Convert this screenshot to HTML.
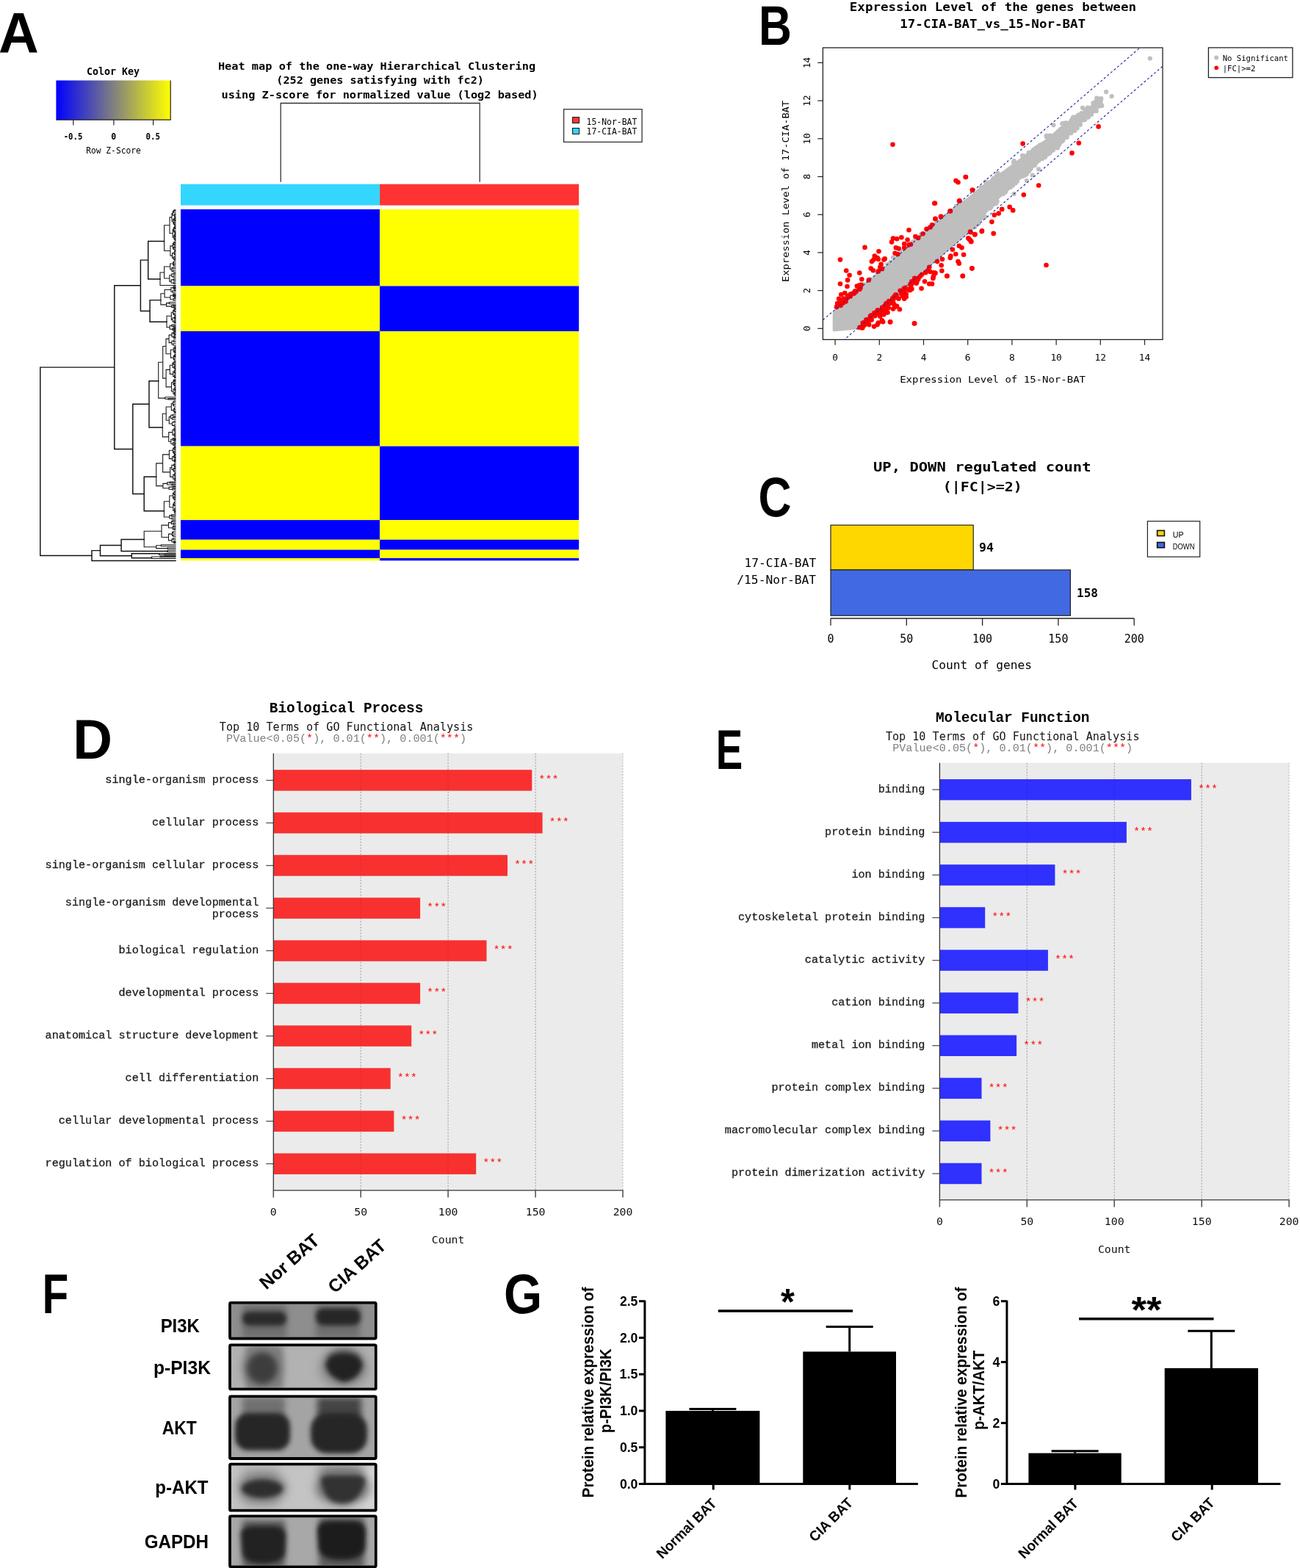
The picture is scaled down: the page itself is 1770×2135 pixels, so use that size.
<!DOCTYPE html>
<html><head><meta charset="utf-8"><title>Figure</title>
<style>html,body{margin:0;padding:0;background:#fff}body{width:1770px;height:2135px;overflow:hidden}svg{display:block}</style>
</head><body>
<svg width="1770" height="2135" viewBox="0 0 1770 2135">
<rect x="0" y="0" width="1770" height="2135" fill="#fff"/>
<text x="0" y="0" font-family="'Liberation Sans',Arial,sans-serif" font-weight="bold" font-size="76.89" transform="translate(-1.90 71.50) scale(0.9866 1)">A</text>
<defs><linearGradient id="ck" x1="0" x2="1" y1="0" y2="0"><stop offset="0" stop-color="#0000ff"/><stop offset="0.5" stop-color="#808080"/><stop offset="1" stop-color="#ffff00"/></linearGradient></defs>
<rect x="76.4" y="109.5" width="155.8" height="53.7" fill="url(#ck)" />
<polyline points="232.2,109.5 232.2,163.2 76.4,163.2" fill="none" stroke="#222" stroke-width="1.2"/>
<line x1="99.8" y1="163.2" x2="99.8" y2="170.4" stroke="#222" stroke-width="1.2" />
<line x1="154.9" y1="163.2" x2="154.9" y2="170.4" stroke="#222" stroke-width="1.2" />
<line x1="208.6" y1="163.2" x2="208.6" y2="170.4" stroke="#222" stroke-width="1.2" />
<text x="154.0" y="101.8" font-family="'DejaVu Sans Mono','Liberation Mono',monospace" font-size="13.2" font-weight="bold" text-anchor="middle" textLength="72.1" lengthAdjust="spacingAndGlyphs" >Color Key</text>
<text x="99.5" y="189.7" font-family="'DejaVu Sans Mono','Liberation Mono',monospace" font-size="11.5" font-weight="bold" text-anchor="middle" textLength="25.7" lengthAdjust="spacingAndGlyphs" >-0.5</text>
<text x="154.6" y="189.7" font-family="'DejaVu Sans Mono','Liberation Mono',monospace" font-size="11.5" font-weight="bold" text-anchor="middle" >0</text>
<text x="208.2" y="189.7" font-family="'DejaVu Sans Mono','Liberation Mono',monospace" font-size="11.5" font-weight="bold" text-anchor="middle" textLength="19.5" lengthAdjust="spacingAndGlyphs" >0.5</text>
<text x="154.5" y="209.3" font-family="'DejaVu Sans Mono','Liberation Mono',monospace" font-size="11.5" text-anchor="middle" textLength="74.5" lengthAdjust="spacingAndGlyphs" >Row Z-Score</text>
<text x="296.9" y="94.5" font-family="'DejaVu Sans Mono','Liberation Mono',monospace" font-size="14.2" font-weight="bold" textLength="432.2" lengthAdjust="spacingAndGlyphs" >Heat map of the one-way Hierarchical Clustering</text>
<text x="376.3" y="114.4" font-family="'DejaVu Sans Mono','Liberation Mono',monospace" font-size="14.2" font-weight="bold" textLength="282.6" lengthAdjust="spacingAndGlyphs" >(252 genes satisfying with fc2)</text>
<text x="301.5" y="134.1" font-family="'DejaVu Sans Mono','Liberation Mono',monospace" font-size="14.2" font-weight="bold" textLength="431.2" lengthAdjust="spacingAndGlyphs" >using Z-score for normalized value (log2 based)</text>
<polyline points="382.2,247.7 382.2,140.5 653.2,140.5 653.2,247.7" fill="none" stroke="#333" stroke-width="1.3"/>
<rect x="767.6" y="148.8" width="106.5" height="44.6" fill="#fff" stroke="#333" stroke-width="1.3" />
<rect x="779.6" y="159.6" width="9.0" height="8.0" fill="#ff3333" stroke="#111" stroke-width="1" />
<rect x="779.6" y="174.5" width="9.0" height="8.0" fill="#33d6ff" stroke="#111" stroke-width="1" />
<text x="798.5" y="169.6" font-family="'DejaVu Sans Mono','Liberation Mono',monospace" font-size="11.8" textLength="68.8" lengthAdjust="spacingAndGlyphs" >15-Nor-BAT</text>
<text x="798.5" y="183.1" font-family="'DejaVu Sans Mono','Liberation Mono',monospace" font-size="11.8" textLength="68.8" lengthAdjust="spacingAndGlyphs" >17-CIA-BAT</text>
<rect x="246.0" y="250.7" width="271.1" height="28.9" fill="#33d6ff" />
<rect x="517.1" y="250.7" width="271.1" height="28.9" fill="#ff3333" />
<rect x="246.0" y="285.0" width="271.1" height="104.5" fill="#0000ff" />
<rect x="517.1" y="285.0" width="271.1" height="104.5" fill="#ffff00" />
<rect x="246.0" y="389.5" width="271.1" height="61.5" fill="#ffff00" />
<rect x="517.1" y="389.5" width="271.1" height="61.5" fill="#0000ff" />
<rect x="246.0" y="451.0" width="271.1" height="156.6" fill="#0000ff" />
<rect x="517.1" y="451.0" width="271.1" height="156.6" fill="#ffff00" />
<rect x="246.0" y="607.6" width="271.1" height="100.5" fill="#ffff00" />
<rect x="517.1" y="607.6" width="271.1" height="100.5" fill="#0000ff" />
<rect x="246.0" y="708.1" width="271.1" height="26.7" fill="#0000ff" />
<rect x="517.1" y="708.1" width="271.1" height="26.7" fill="#ffff00" />
<rect x="246.0" y="734.8" width="271.1" height="13.8" fill="#ffff00" />
<rect x="517.1" y="734.8" width="271.1" height="13.8" fill="#0000ff" />
<rect x="246.0" y="748.6" width="271.1" height="11.4" fill="#0000ff" />
<rect x="517.1" y="748.6" width="271.1" height="11.4" fill="#ffff00" />
<rect x="246.0" y="760.0" width="271.1" height="3.3" fill="#ffff00" />
<rect x="517.1" y="760.0" width="271.1" height="3.3" fill="#0000ff" />
<path d="M237.1 285.9L237.1 287.2 M237.1 285.9L239.0 285.9 M237.1 287.2L239.0 287.2 M236.4 286.5L236.4 289.3 M236.4 286.5L237.1 286.5 M236.4 289.3L239.0 289.3 M238.1 291.0L238.1 292.5 M238.1 291.0L239.0 291.0 M238.1 292.5L239.0 292.5 M237.9 294.0L237.9 295.5 M237.9 294.0L239.0 294.0 M237.9 295.5L239.0 295.5 M237.5 291.7L237.5 294.7 M237.5 291.7L238.1 291.7 M237.5 294.7L237.9 294.7 M235.3 287.9L235.3 293.2 M235.3 287.9L236.4 287.9 M235.3 293.2L237.5 293.2 M237.6 296.7L237.6 297.9 M237.6 296.7L239.0 296.7 M237.6 297.9L239.0 297.9 M237.9 299.2L237.9 300.4 M237.9 299.2L239.0 299.2 M237.9 300.4L239.0 300.4 M236.9 297.3L236.9 299.8 M236.9 297.3L237.6 297.3 M236.9 299.8L237.9 299.8 M237.8 301.8L237.8 303.2 M237.8 301.8L239.0 301.8 M237.8 303.2L239.0 303.2 M237.7 304.8L237.7 306.4 M237.7 304.8L239.0 304.8 M237.7 306.4L239.0 306.4 M236.6 302.5L236.6 305.6 M236.6 302.5L237.8 302.5 M236.6 305.6L237.7 305.6 M235.8 298.6L235.8 304.0 M235.8 298.6L236.9 298.6 M235.8 304.0L236.6 304.0 M234.0 290.6L234.0 301.3 M234.0 290.6L235.3 290.6 M234.0 301.3L235.8 301.3 M238.3 307.7L238.3 309.0 M238.3 307.7L239.0 307.7 M238.3 309.0L239.0 309.0 M238.0 310.4L238.0 311.7 M238.0 310.4L239.0 310.4 M238.0 311.7L239.0 311.7 M237.6 308.4L237.6 311.0 M237.6 308.4L238.3 308.4 M237.6 311.0L238.0 311.0 M238.1 315.6L238.1 317.1 M238.1 315.6L239.0 315.6 M238.1 317.1L239.0 317.1 M237.2 313.9L237.2 316.3 M237.2 313.9L239.0 313.9 M237.2 316.3L238.1 316.3 M236.5 309.7L236.5 315.1 M236.5 309.7L237.6 309.7 M236.5 315.1L237.2 315.1 M238.3 318.4L238.3 319.8 M238.3 318.4L239.0 318.4 M238.3 319.8L239.0 319.8 M238.2 321.1L238.2 322.4 M238.2 321.1L239.0 321.1 M238.2 322.4L239.0 322.4 M237.7 319.1L237.7 321.8 M237.7 319.1L238.3 319.1 M237.7 321.8L238.2 321.8 M238.4 323.8L238.4 325.2 M238.4 323.8L239.0 323.8 M238.4 325.2L239.0 325.2 M238.5 326.5L238.5 327.8 M238.5 326.5L239.0 326.5 M238.5 327.8L239.0 327.8 M238.1 324.5L238.1 327.2 M238.1 324.5L238.4 324.5 M238.1 327.2L238.5 327.2 M236.9 320.4L236.9 325.8 M236.9 320.4L237.7 320.4 M236.9 325.8L238.1 325.8 M235.2 312.4L235.2 323.1 M235.2 312.4L236.5 312.4 M235.2 323.1L236.9 323.1 M231.0 295.9L231.0 317.8 M231.0 295.9L234.0 295.9 M231.0 317.8L235.2 317.8 M237.8 329.2L237.8 330.6 M237.8 329.2L239.0 329.2 M237.8 330.6L239.0 330.6 M237.4 332.4L237.4 334.1 M237.4 332.4L239.0 332.4 M237.4 334.1L239.0 334.1 M236.5 329.9L236.5 333.2 M236.5 329.9L237.8 329.9 M236.5 333.2L237.4 333.2 M237.8 335.8L237.8 337.4 M237.8 335.8L239.0 335.8 M237.8 337.4L239.0 337.4 M237.8 339.0L237.8 340.6 M237.8 339.0L239.0 339.0 M237.8 340.6L239.0 340.6 M236.3 336.6L236.3 339.8 M236.3 336.6L237.8 336.6 M236.3 339.8L237.8 339.8 M235.3 331.6L235.3 338.2 M235.3 331.6L236.5 331.6 M235.3 338.2L236.3 338.2 M237.8 342.1L237.8 343.7 M237.8 342.1L239.0 342.1 M237.8 343.7L239.0 343.7 M238.0 345.5L238.0 347.3 M238.0 345.5L239.0 345.5 M238.0 347.3L239.0 347.3 M237.2 342.9L237.2 346.4 M237.2 342.9L237.8 342.9 M237.2 346.4L238.0 346.4 M237.9 349.0L237.9 350.7 M237.9 349.0L239.0 349.0 M237.9 350.7L239.0 350.7 M237.5 352.4L237.5 354.1 M237.5 352.4L239.0 352.4 M237.5 354.1L239.0 354.1 M236.3 349.9L236.3 353.2 M236.3 349.9L237.9 349.9 M236.3 353.2L237.5 353.2 M234.6 344.6L234.6 351.5 M234.6 344.6L237.2 344.6 M234.6 351.5L236.3 351.5 M231.9 334.9L231.9 348.1 M231.9 334.9L235.3 334.9 M231.9 348.1L234.6 348.1 M223.6 306.8L223.6 341.5 M223.6 306.8L231.0 306.8 M223.6 341.5L231.9 341.5 M236.5 356.0L236.5 358.0 M236.5 356.0L239.0 356.0 M236.5 358.0L239.0 358.0 M236.5 359.9L236.5 362.0 M236.5 359.9L239.0 359.9 M236.5 362.0L239.0 362.0 M235.6 357.0L235.6 361.0 M235.6 357.0L236.5 357.0 M235.6 361.0L236.5 361.0 M235.2 364.0L235.2 365.8 M235.2 364.0L239.0 364.0 M235.2 365.8L239.0 365.8 M235.8 368.0L235.8 370.2 M235.8 368.0L239.0 368.0 M235.8 370.2L239.0 370.2 M233.9 364.9L233.9 369.1 M233.9 364.9L235.2 364.9 M233.9 369.1L235.8 369.1 M231.7 359.0L231.7 367.0 M231.7 359.0L235.6 359.0 M231.7 367.0L233.9 367.0 M236.7 372.1L236.7 373.8 M236.7 372.1L239.0 372.1 M236.7 373.8L239.0 373.8 M236.0 375.7L236.0 377.8 M236.0 375.7L239.0 375.7 M236.0 377.8L239.0 377.8 M233.8 372.9L233.8 376.7 M233.8 372.9L236.7 372.9 M233.8 376.7L236.0 376.7 M236.3 379.9L236.3 381.9 M236.3 379.9L239.0 379.9 M236.3 381.9L239.0 381.9 M236.6 384.1L236.6 386.4 M236.6 384.1L239.0 384.1 M236.6 386.4L239.0 386.4 M233.1 380.9L233.1 385.3 M233.1 380.9L236.3 380.9 M233.1 385.3L236.6 385.3 M230.8 374.8L230.8 383.1 M230.8 374.8L233.8 374.8 M230.8 383.1L233.1 383.1 M223.6 363.0L223.6 379.0 M223.6 363.0L231.7 363.0 M223.6 379.0L230.8 379.0 M218.0 371.0L218.0 388.5 M218.0 371.0L223.6 371.0 M218.0 388.5L239.0 388.5 M236.9 389.8L236.9 391.1 M236.9 389.8L239.0 389.8 M236.9 391.1L239.0 391.1 M237.3 392.4L237.3 393.7 M237.3 392.4L239.0 392.4 M237.3 393.7L239.0 393.7 M235.9 390.4L235.9 393.1 M235.9 390.4L236.9 390.4 M235.9 393.1L237.3 393.1 M237.4 395.1L237.4 396.5 M237.4 395.1L239.0 395.1 M237.4 396.5L239.0 396.5 M235.2 395.8L235.2 398.7 M235.2 395.8L237.4 395.8 M235.2 398.7L239.0 398.7 M232.9 391.8L232.9 397.3 M232.9 391.8L235.9 391.8 M232.9 397.3L235.2 397.3 M236.9 400.3L236.9 401.6 M236.9 400.3L239.0 400.3 M236.9 401.6L239.0 401.6 M236.8 402.9L236.8 404.1 M236.8 402.9L239.0 402.9 M236.8 404.1L239.0 404.1 M235.6 400.9L235.6 403.5 M235.6 400.9L236.9 400.9 M235.6 403.5L236.8 403.5 M237.8 405.6L237.8 407.0 M237.8 405.6L239.0 405.6 M237.8 407.0L239.0 407.0 M236.1 406.3L236.1 409.1 M236.1 406.3L237.8 406.3 M236.1 409.1L239.0 409.1 M232.0 402.2L232.0 407.7 M232.0 402.2L235.6 402.2 M232.0 407.7L236.1 407.7 M224.1 394.5L224.1 405.0 M224.1 394.5L232.9 394.5 M224.1 405.0L232.0 405.0 M230.5 411.5L230.5 413.7 M230.5 411.5L239.0 411.5 M230.5 413.7L239.0 413.7 M235.8 415.2L235.8 416.5 M235.8 415.2L239.0 415.2 M235.8 416.5L239.0 416.5 M236.4 417.8L236.4 419.1 M236.4 417.8L239.0 417.8 M236.4 419.1L239.0 419.1 M233.6 415.8L233.6 418.4 M233.6 415.8L235.8 415.8 M233.6 418.4L236.4 418.4 M226.5 412.6L226.5 417.1 M226.5 412.6L230.5 412.6 M226.5 417.1L233.6 417.1 M218.9 399.7L218.9 414.9 M218.9 399.7L224.1 399.7 M218.9 414.9L226.5 414.9 M238.1 420.4L238.1 421.8 M238.1 420.4L239.0 420.4 M238.1 421.8L239.0 421.8 M238.1 423.2L238.1 424.6 M238.1 423.2L239.0 423.2 M238.1 424.6L239.0 424.6 M236.9 421.1L236.9 423.9 M236.9 421.1L238.1 421.1 M236.9 423.9L238.1 423.9 M238.0 428.2L238.0 429.5 M238.0 428.2L239.0 428.2 M238.0 429.5L239.0 429.5 M236.7 426.7L236.7 428.8 M236.7 426.7L239.0 426.7 M236.7 428.8L238.0 428.8 M235.7 422.5L235.7 427.8 M235.7 422.5L236.9 422.5 M235.7 427.8L236.7 427.8 M238.0 430.8L238.0 432.1 M238.0 430.8L239.0 430.8 M238.0 432.1L239.0 432.1 M237.9 433.4L237.9 434.7 M237.9 433.4L239.0 433.4 M237.9 434.7L239.0 434.7 M237.4 431.5L237.4 434.1 M237.4 431.5L238.0 431.5 M237.4 434.1L237.9 434.1 M238.1 436.0L238.1 437.3 M238.1 436.0L239.0 436.0 M238.1 437.3L239.0 437.3 M238.0 438.6L238.0 439.9 M238.0 438.6L239.0 438.6 M238.0 439.9L239.0 439.9 M236.9 436.7L236.9 439.3 M236.9 436.7L238.1 436.7 M236.9 439.3L238.0 439.3 M235.0 432.8L235.0 438.0 M235.0 432.8L237.4 432.8 M235.0 438.0L236.9 438.0 M233.3 425.2L233.3 435.4 M233.3 425.2L235.7 425.2 M233.3 435.4L235.0 435.4 M236.8 443.7L236.8 445.1 M236.8 443.7L239.0 443.7 M236.8 445.1L239.0 445.1 M233.9 442.1L233.9 444.4 M233.9 442.1L239.0 442.1 M233.9 444.4L236.8 444.4 M236.4 446.3L236.4 447.6 M236.4 446.3L239.0 446.3 M236.4 447.6L239.0 447.6 M236.6 448.8L236.6 450.1 M236.6 448.8L239.0 448.8 M236.6 450.1L239.0 450.1 M234.8 447.0L234.8 449.4 M234.8 447.0L236.4 447.0 M234.8 449.4L236.6 449.4 M231.2 443.2L231.2 448.2 M231.2 443.2L233.9 443.2 M231.2 448.2L234.8 448.2 M227.0 430.3L227.0 445.7 M227.0 430.3L233.3 430.3 M227.0 445.7L231.2 445.7 M237.0 451.4L237.0 452.8 M237.0 451.4L239.0 451.4 M237.0 452.8L239.0 452.8 M237.2 454.1L237.2 455.5 M237.2 454.1L239.0 454.1 M237.2 455.5L239.0 455.5 M236.2 452.1L236.2 454.8 M236.2 452.1L237.0 452.1 M236.2 454.8L237.2 454.8 M237.6 456.8L237.6 458.2 M237.6 456.8L239.0 456.8 M237.6 458.2L239.0 458.2 M237.3 459.5L237.3 460.8 M237.3 459.5L239.0 459.5 M237.3 460.8L239.0 460.8 M236.2 457.5L236.2 460.2 M236.2 457.5L237.6 457.5 M236.2 460.2L237.3 460.2 M234.0 453.4L234.0 458.8 M234.0 453.4L236.2 453.4 M234.0 458.8L236.2 458.8 M236.4 463.0L236.4 465.4 M236.4 463.0L239.0 463.0 M236.4 465.4L239.0 465.4 M236.0 467.8L236.0 470.3 M236.0 467.8L239.0 467.8 M236.0 470.3L239.0 470.3 M233.9 464.2L233.9 469.0 M233.9 464.2L236.4 464.2 M233.9 469.0L236.0 469.0 M230.1 456.1L230.1 466.6 M230.1 456.1L234.0 456.1 M230.1 466.6L233.9 466.6 M238.2 471.8L238.2 473.1 M238.2 471.8L239.0 471.8 M238.2 473.1L239.0 473.1 M238.2 474.4L238.2 475.7 M238.2 474.4L239.0 474.4 M238.2 475.7L239.0 475.7 M237.8 472.5L237.8 475.1 M237.8 472.5L238.2 472.5 M237.8 475.1L238.2 475.1 M238.4 477.0L238.4 478.2 M238.4 477.0L239.0 477.0 M238.4 478.2L239.0 478.2 M238.3 479.5L238.3 480.7 M238.3 479.5L239.0 479.5 M238.3 480.7L239.0 480.7 M237.6 477.6L237.6 480.1 M237.6 477.6L238.4 477.6 M237.6 480.1L238.3 480.1 M236.2 473.8L236.2 478.9 M236.2 473.8L237.8 473.8 M236.2 478.9L237.6 478.9 M238.2 482.3L238.2 483.9 M238.2 482.3L239.0 482.3 M238.2 483.9L239.0 483.9 M238.1 485.2L238.1 486.4 M238.1 485.2L239.0 485.2 M238.1 486.4L239.0 486.4 M237.4 483.1L237.4 485.8 M237.4 483.1L238.2 483.1 M237.4 485.8L238.1 485.8 M237.3 488.5L237.3 490.8 M237.3 488.5L239.0 488.5 M237.3 490.8L239.0 490.8 M236.3 484.5L236.3 489.7 M236.3 484.5L237.4 484.5 M236.3 489.7L237.3 489.7 M232.4 476.3L232.4 487.1 M232.4 476.3L236.2 476.3 M232.4 487.1L236.3 487.1 M226.0 461.4L226.0 481.7 M226.0 461.4L230.1 461.4 M226.0 481.7L232.4 481.7 M237.6 492.4L237.6 493.8 M237.6 492.4L239.0 492.4 M237.6 493.8L239.0 493.8 M236.9 495.3L236.9 496.7 M236.9 495.3L239.0 495.3 M236.9 496.7L239.0 496.7 M236.0 493.1L236.0 496.0 M236.0 493.1L237.6 493.1 M236.0 496.0L236.9 496.0 M237.8 498.0L237.8 499.3 M237.8 498.0L239.0 498.0 M237.8 499.3L239.0 499.3 M238.1 500.9L238.1 502.4 M238.1 500.9L239.0 500.9 M238.1 502.4L239.0 502.4 M237.1 498.7L237.1 501.6 M237.1 498.7L237.8 498.7 M237.1 501.6L238.1 501.6 M234.9 494.6L234.9 500.1 M234.9 494.6L236.0 494.6 M234.9 500.1L237.1 500.1 M238.2 503.8L238.2 505.2 M238.2 503.8L239.0 503.8 M238.2 505.2L239.0 505.2 M238.3 506.9L238.3 508.6 M238.3 506.9L239.0 506.9 M238.3 508.6L239.0 508.6 M237.3 504.5L237.3 507.8 M237.3 504.5L238.2 504.5 M237.3 507.8L238.3 507.8 M237.9 510.3L237.9 512.0 M237.9 510.3L239.0 510.3 M237.9 512.0L239.0 512.0 M238.1 513.4L238.1 514.8 M238.1 513.4L239.0 513.4 M238.1 514.8L239.0 514.8 M237.5 511.1L237.5 514.1 M237.5 511.1L237.9 511.1 M237.5 514.1L238.1 514.1 M235.7 506.1L235.7 512.6 M235.7 506.1L237.3 506.1 M235.7 512.6L237.5 512.6 M231.3 497.3L231.3 509.4 M231.3 497.3L234.9 497.3 M231.3 509.4L235.7 509.4 M237.6 518.4L237.6 519.7 M237.6 518.4L239.0 518.4 M237.6 519.7L239.0 519.7 M236.9 516.9L236.9 519.1 M236.9 516.9L239.0 516.9 M236.9 519.1L237.6 519.1 M237.6 521.2L237.6 522.7 M237.6 521.2L239.0 521.2 M237.6 522.7L239.0 522.7 M237.7 524.2L237.7 525.7 M237.7 524.2L239.0 524.2 M237.7 525.7L239.0 525.7 M237.0 522.0L237.0 524.9 M237.0 522.0L237.6 522.0 M237.0 524.9L237.7 524.9 M235.9 518.0L235.9 523.4 M235.9 518.0L236.9 518.0 M235.9 523.4L237.0 523.4 M238.2 527.4L238.2 529.1 M238.2 527.4L239.0 527.4 M238.2 529.1L239.0 529.1 M238.2 530.6L238.2 532.1 M238.2 530.6L239.0 530.6 M238.2 532.1L239.0 532.1 M237.7 528.3L237.7 531.4 M237.7 528.3L238.2 528.3 M237.7 531.4L238.2 531.4 M238.0 533.8L238.0 535.4 M238.0 533.8L239.0 533.8 M238.0 535.4L239.0 535.4 M238.2 537.0L238.2 538.6 M238.2 537.0L239.0 537.0 M238.2 538.6L239.0 538.6 M237.4 534.6L237.4 537.8 M237.4 534.6L238.0 534.6 M237.4 537.8L238.2 537.8 M235.9 529.8L235.9 536.2 M235.9 529.8L237.7 529.8 M235.9 536.2L237.4 536.2 M233.5 520.7L233.5 533.0 M233.5 520.7L235.9 520.7 M233.5 533.0L235.9 533.0 M226.1 503.4L226.1 526.9 M226.1 503.4L231.3 503.4 M226.1 526.9L233.5 526.9 M221.7 471.5L221.7 515.1 M221.7 471.5L226.0 471.5 M221.7 515.1L226.1 515.1 M229.0 542.6L229.0 544.0 M229.0 542.6L239.0 542.6 M229.0 544.0L239.0 544.0 M224.8 540.8L224.8 543.3 M224.8 540.8L239.0 540.8 M224.8 543.3L229.0 543.3 M215.7 493.3L215.7 542.1 M215.7 493.3L221.7 493.3 M215.7 542.1L224.8 542.1 M236.8 546.1L236.8 548.2 M236.8 546.1L239.0 546.1 M236.8 548.2L239.0 548.2 M236.6 550.5L236.6 553.0 M236.6 550.5L239.0 550.5 M236.6 553.0L239.0 553.0 M235.3 547.2L235.3 551.8 M235.3 547.2L236.8 547.2 M235.3 551.8L236.6 551.8 M237.5 555.3L237.5 557.6 M237.5 555.3L239.0 555.3 M237.5 557.6L239.0 557.6 M238.1 561.1L238.1 562.4 M238.1 561.1L239.0 561.1 M238.1 562.4L239.0 562.4 M237.5 559.7L237.5 561.7 M237.5 559.7L239.0 559.7 M237.5 561.7L238.1 561.7 M236.7 556.4L236.7 560.7 M236.7 556.4L237.5 556.4 M236.7 560.7L237.5 560.7 M233.3 549.5L233.3 558.6 M233.3 549.5L235.3 549.5 M233.3 558.6L236.7 558.6 M235.0 564.3L235.0 566.3 M235.0 564.3L239.0 564.3 M235.0 566.3L239.0 566.3 M236.6 567.8L236.6 569.0 M236.6 567.8L239.0 567.8 M236.6 569.0L239.0 569.0 M234.8 568.4L234.8 571.2 M234.8 568.4L236.6 568.4 M234.8 571.2L239.0 571.2 M232.5 565.3L232.5 569.8 M232.5 565.3L235.0 565.3 M232.5 569.8L234.8 569.8 M237.0 573.6L237.0 575.8 M237.0 573.6L239.0 573.6 M237.0 575.8L239.0 575.8 M237.2 578.2L237.2 580.5 M237.2 578.2L239.0 578.2 M237.2 580.5L239.0 580.5 M234.5 574.7L234.5 579.4 M234.5 574.7L237.0 574.7 M234.5 579.4L237.2 579.4 M230.3 567.6L230.3 577.0 M230.3 567.6L232.5 567.6 M230.3 577.0L234.5 577.0 M226.2 554.0L226.2 572.3 M226.2 554.0L233.3 554.0 M226.2 572.3L230.3 572.3 M237.6 582.4L237.6 584.2 M237.6 582.4L239.0 582.4 M237.6 584.2L239.0 584.2 M237.8 585.9L237.8 587.7 M237.8 585.9L239.0 585.9 M237.8 587.7L239.0 587.7 M237.0 583.3L237.0 586.8 M237.0 583.3L237.6 583.3 M237.0 586.8L237.8 586.8 M238.0 589.4L238.0 591.2 M238.0 589.4L239.0 589.4 M238.0 591.2L239.0 591.2 M238.0 592.9L238.0 594.7 M238.0 592.9L239.0 592.9 M238.0 594.7L239.0 594.7 M237.1 590.3L237.1 593.8 M237.1 590.3L238.0 590.3 M237.1 593.8L238.0 593.8 M234.9 585.0L234.9 592.1 M234.9 585.0L237.0 585.0 M234.9 592.1L237.1 592.1 M236.8 596.2L236.8 597.6 M236.8 596.2L239.0 596.2 M236.8 597.6L239.0 597.6 M236.9 598.9L236.9 600.1 M236.9 598.9L239.0 598.9 M236.9 600.1L239.0 600.1 M235.1 596.9L235.1 599.5 M235.1 596.9L236.8 596.9 M235.1 599.5L236.9 599.5 M237.2 601.9L237.2 603.6 M237.2 601.9L239.0 601.9 M237.2 603.6L239.0 603.6 M237.0 605.1L237.0 606.7 M237.0 605.1L239.0 605.1 M237.0 606.7L239.0 606.7 M235.4 602.8L235.4 605.9 M235.4 602.8L237.2 602.8 M235.4 605.9L237.0 605.9 M232.8 598.2L232.8 604.3 M232.8 598.2L235.1 598.2 M232.8 604.3L235.4 604.3 M229.7 588.6L229.7 601.3 M229.7 588.6L234.9 588.6 M229.7 601.3L232.8 601.3 M221.3 563.2L221.3 594.9 M221.3 563.2L226.2 563.2 M221.3 594.9L229.7 594.9 M238.0 608.1L238.0 609.6 M238.0 608.1L239.0 608.1 M238.0 609.6L239.0 609.6 M237.9 611.0L237.9 612.5 M237.9 611.0L239.0 611.0 M237.9 612.5L239.0 612.5 M237.0 608.8L237.0 611.7 M237.0 608.8L238.0 608.8 M237.0 611.7L237.9 611.7 M237.5 614.0L237.5 615.5 M237.5 614.0L239.0 614.0 M237.5 615.5L239.0 615.5 M237.3 617.1L237.3 618.6 M237.3 617.1L239.0 617.1 M237.3 618.6L239.0 618.6 M236.7 614.8L236.7 617.8 M236.7 614.8L237.5 614.8 M236.7 617.8L237.3 617.8 M235.5 610.3L235.5 616.3 M235.5 610.3L237.0 610.3 M235.5 616.3L236.7 616.3 M237.7 619.9L237.7 621.3 M237.7 619.9L239.0 619.9 M237.7 621.3L239.0 621.3 M238.0 622.6L238.0 623.9 M238.0 622.6L239.0 622.6 M238.0 623.9L239.0 623.9 M236.7 620.6L236.7 623.3 M236.7 620.6L237.7 620.6 M236.7 623.3L238.0 623.3 M238.1 625.2L238.1 626.6 M238.1 625.2L239.0 625.2 M238.1 626.6L239.0 626.6 M237.9 627.9L237.9 629.2 M237.9 627.9L239.0 627.9 M237.9 629.2L239.0 629.2 M237.1 625.9L237.1 628.6 M237.1 625.9L238.1 625.9 M237.1 628.6L237.9 628.6 M234.6 621.9L234.6 627.2 M234.6 621.9L236.7 621.9 M234.6 627.2L237.1 627.2 M230.4 613.3L230.4 624.6 M230.4 613.3L235.5 613.3 M230.4 624.6L234.6 624.6 M237.8 631.0L237.8 632.7 M237.8 631.0L239.0 631.0 M237.8 632.7L239.0 632.7 M237.9 634.2L237.9 635.7 M237.9 634.2L239.0 634.2 M237.9 635.7L239.0 635.7 M236.9 631.8L236.9 634.9 M236.9 631.8L237.8 631.8 M236.9 634.9L237.9 634.9 M237.3 637.1L237.3 638.5 M237.3 637.1L239.0 637.1 M237.3 638.5L239.0 638.5 M236.9 640.3L236.9 642.1 M236.9 640.3L239.0 640.3 M236.9 642.1L239.0 642.1 M236.0 637.8L236.0 641.2 M236.0 637.8L237.3 637.8 M236.0 641.2L236.9 641.2 M233.9 633.4L233.9 639.5 M233.9 633.4L236.9 633.4 M233.9 639.5L236.0 639.5 M238.2 643.9L238.2 645.8 M238.2 643.9L239.0 643.9 M238.2 645.8L239.0 645.8 M238.0 647.2L238.0 648.7 M238.0 647.2L239.0 647.2 M238.0 648.7L239.0 648.7 M237.5 644.8L237.5 648.0 M237.5 644.8L238.2 644.8 M237.5 648.0L238.0 648.0 M238.2 650.2L238.2 651.6 M238.2 650.2L239.0 650.2 M238.2 651.6L239.0 651.6 M238.0 653.1L238.0 654.5 M238.0 653.1L239.0 653.1 M238.0 654.5L239.0 654.5 M237.7 650.9L237.7 653.8 M237.7 650.9L238.2 650.9 M237.7 653.8L238.0 653.8 M235.7 646.4L235.7 652.3 M235.7 646.4L237.5 646.4 M235.7 652.3L237.7 652.3 M231.7 636.5L231.7 649.4 M231.7 636.5L233.9 636.5 M231.7 649.4L235.7 649.4 M221.6 618.9L221.6 642.9 M221.6 618.9L230.4 618.9 M221.6 642.9L231.7 642.9 M231.3 656.1L231.3 657.7 M231.3 656.1L239.0 656.1 M231.3 657.7L239.0 657.7 M234.0 659.2L234.0 660.8 M234.0 659.2L239.0 659.2 M234.0 660.8L239.0 660.8 M227.7 656.9L227.7 660.0 M227.7 656.9L231.3 656.9 M227.7 660.0L234.0 660.0 M235.2 662.4L235.2 663.9 M235.2 662.4L239.0 662.4 M235.2 663.9L239.0 663.9 M234.5 665.5L234.5 667.0 M234.5 665.5L239.0 665.5 M234.5 667.0L239.0 667.0 M230.0 663.1L230.0 666.3 M230.0 663.1L235.2 663.1 M230.0 666.3L234.5 666.3 M221.9 658.4L221.9 664.7 M221.9 658.4L227.7 658.4 M221.9 664.7L230.0 664.7 M212.7 630.9L212.7 661.6 M212.7 630.9L221.6 630.9 M212.7 661.6L221.9 661.6 M238.1 668.9L238.1 670.8 M238.1 668.9L239.0 668.9 M238.1 670.8L239.0 670.8 M237.6 672.5L237.6 674.1 M237.6 672.5L239.0 672.5 M237.6 674.1L239.0 674.1 M236.8 669.9L236.8 673.3 M236.8 669.9L238.1 669.9 M236.8 673.3L237.6 673.3 M237.6 675.8L237.6 677.4 M237.6 675.8L239.0 675.8 M237.6 677.4L239.0 677.4 M237.8 679.4L237.8 681.3 M237.8 679.4L239.0 679.4 M237.8 681.3L239.0 681.3 M236.9 676.6L236.9 680.3 M236.9 676.6L237.6 676.6 M236.9 680.3L237.8 680.3 M235.5 671.6L235.5 678.5 M235.5 671.6L236.8 671.6 M235.5 678.5L236.9 678.5 M237.4 683.2L237.4 685.2 M237.4 683.2L239.0 683.2 M237.4 685.2L239.0 685.2 M237.8 687.2L237.8 689.3 M237.8 687.2L239.0 687.2 M237.8 689.3L239.0 689.3 M236.8 684.2L236.8 688.3 M236.8 684.2L237.4 684.2 M236.8 688.3L237.8 688.3 M238.1 691.5L238.1 693.9 M238.1 691.5L239.0 691.5 M238.1 693.9L239.0 693.9 M238.2 695.5L238.2 696.9 M238.2 695.5L239.0 695.5 M238.2 696.9L239.0 696.9 M237.8 696.2L237.8 698.9 M237.8 696.2L238.2 696.2 M237.8 698.9L239.0 698.9 M237.4 692.7L237.4 697.5 M237.4 692.7L238.1 692.7 M237.4 697.5L237.8 697.5 M235.7 686.2L235.7 695.1 M235.7 686.2L236.8 686.2 M235.7 695.1L237.4 695.1 M230.8 675.0L230.8 690.7 M230.8 675.0L235.5 675.0 M230.8 690.7L235.7 690.7 M233.4 700.9L233.4 702.9 M233.4 700.9L239.0 700.9 M233.4 702.9L239.0 702.9 M234.0 705.0L234.0 707.0 M234.0 705.0L239.0 705.0 M234.0 707.0L239.0 707.0 M230.7 701.9L230.7 706.0 M230.7 701.9L233.4 701.9 M230.7 706.0L234.0 706.0 M223.4 682.8L223.4 704.0 M223.4 682.8L230.8 682.8 M223.4 704.0L230.7 704.0 M234.8 708.9L234.8 710.7 M234.8 708.9L239.0 708.9 M234.8 710.7L239.0 710.7 M236.4 712.5L236.4 714.3 M236.4 712.5L239.0 712.5 M236.4 714.3L239.0 714.3 M233.4 709.8L233.4 713.4 M233.4 709.8L234.8 709.8 M233.4 713.4L236.4 713.4 M236.3 716.0L236.3 717.6 M236.3 716.0L239.0 716.0 M236.3 717.6L239.0 717.6 M237.0 719.6L237.0 721.5 M237.0 719.6L239.0 719.6 M237.0 721.5L239.0 721.5 M235.1 716.8L235.1 720.5 M235.1 716.8L236.3 716.8 M235.1 720.5L237.0 720.5 M229.5 711.6L229.5 718.7 M229.5 711.6L233.4 711.6 M229.5 718.7L235.1 718.7 M235.6 723.7L235.6 726.0 M235.6 723.7L239.0 723.7 M235.6 726.0L239.0 726.0 M235.9 728.3L235.9 730.5 M235.9 728.3L239.0 728.3 M235.9 730.5L239.0 730.5 M234.4 724.8L234.4 729.4 M234.4 724.8L235.6 724.8 M234.4 729.4L235.9 729.4 M235.7 732.7L235.7 734.8 M235.7 732.7L239.0 732.7 M235.7 734.8L239.0 734.8 M237.6 738.4L237.6 739.8 M237.6 738.4L239.0 738.4 M237.6 739.8L239.0 739.8 M236.5 736.9L236.5 739.1 M236.5 736.9L239.0 736.9 M236.5 739.1L237.6 739.1 M234.0 733.7L234.0 738.0 M234.0 733.7L235.7 733.7 M234.0 738.0L236.5 738.0 M229.5 727.1L229.5 735.9 M229.5 727.1L234.4 727.1 M229.5 735.9L234.0 735.9 M220.0 715.1L220.0 731.5 M220.0 715.1L229.5 715.1 M220.0 731.5L229.5 731.5 M219.4 741.7L219.4 743.7 M219.4 741.7L239.0 741.7 M219.4 743.7L239.0 743.7 M228.1 745.7L228.1 747.5 M228.1 745.7L239.0 745.7 M228.1 747.5L239.0 747.5 M212.7 742.7L212.7 746.6 M212.7 742.7L219.4 742.7 M212.7 746.6L228.1 746.6 M196.2 723.3L196.2 744.7 M196.2 723.3L220.0 723.3 M196.2 744.7L212.7 744.7 M228.0 749.5L228.0 751.5 M228.0 749.5L239.0 749.5 M228.0 751.5L239.0 751.5 M224.2 754.8L224.2 756.0 M224.2 754.8L239.0 754.8 M224.2 756.0L239.0 756.0 M216.7 753.5L216.7 755.4 M216.7 753.5L239.0 753.5 M216.7 755.4L224.2 755.4 M218.1 757.4L218.1 758.7 M218.1 757.4L239.0 757.4 M218.1 758.7L239.0 758.7 M206.5 758.0L206.5 760.5 M206.5 758.0L218.1 758.0 M206.5 760.5L239.0 760.5" stroke="#1a1a1a" stroke-width="1.1" fill="none" stroke-linecap="square"/>
<path d="M201.7 328.4L201.7 379.9 M201.7 328.4L223.6 328.4 M201.7 379.9L218.0 379.9 M204.1 408.6L204.1 438.2 M204.1 408.6L218.9 408.6 M204.1 438.2L227.0 438.2 M191.4 354.1L191.4 423.4 M191.4 354.1L201.7 354.1 M191.4 423.4L204.1 423.4 M203.0 518.8L203.0 581.9 M203.0 518.8L215.7 518.8 M203.0 581.9L221.3 581.9 M196.2 649.2L196.2 695.7 M196.2 649.2L212.7 649.2 M196.2 695.7L223.4 695.7 M180.8 550.3L180.8 672.5 M180.8 550.3L203.0 550.3 M180.8 672.5L196.2 672.5 M155.8 388.8L155.8 611.4 M155.8 388.8L191.4 388.8 M155.8 611.4L180.8 611.4 M165.1 734.5L165.1 750.5 M165.1 734.5L196.2 734.5 M165.1 750.5L228.0 750.5 M179.3 753.8L179.3 759.8 M179.3 753.8L216.7 753.8 M179.3 759.8L206.5 759.8 M136.5 742.5L136.5 756.8 M136.5 742.5L165.1 742.5 M136.5 756.8L179.3 756.8 M125.0 749.6L125.0 763.4 M125.0 749.6L136.5 749.6 M125.0 763.4L239.0 763.4 M54.8 500.1L54.8 756.5 M54.8 500.1L155.8 500.1 M54.8 756.5L125.0 756.5" stroke="#111" stroke-width="1.45" fill="none" stroke-linecap="square"/>
<text x="0" y="0" font-family="'Liberation Sans',Arial,sans-serif" font-weight="bold" font-size="76.16" transform="translate(1033.04 60.70) scale(0.8158 1)">B</text>
<text x="1156.8" y="14.6" font-family="'DejaVu Sans Mono','Liberation Mono',monospace" font-size="15.0" font-weight="bold" textLength="390.2" lengthAdjust="spacingAndGlyphs" >Expression Level of the genes between</text>
<text x="1225.3" y="37.9" font-family="'DejaVu Sans Mono','Liberation Mono',monospace" font-size="15.0" font-weight="bold" textLength="252.8" lengthAdjust="spacingAndGlyphs" >17-CIA-BAT_vs_15-Nor-BAT</text>
<defs><clipPath id="cb"><rect x="1120.4" y="65" width="462.5999999999999" height="397.4"/></clipPath></defs>
<g clip-path="url(#cb)">
<polygon points="1135.2,449.7 1135.2,425.1 1150.0,411.9 1162.0,401.6 1174.0,391.3 1186.0,381.0 1198.0,370.6 1210.0,360.3 1222.0,350.0 1234.0,339.7 1246.0,329.4 1258.0,319.1 1270.0,308.8 1275.4,304.3 1300.0,282.7 1317.9,270.7 1344.8,248.3 1367.2,233.4 1395.6,212.5 1409.0,200.5 1424.0,191.6 1434.4,182.6 1452.3,167.7 1464.3,160.2 1479.2,151.2 1494.1,136.3 1500.0,136.3 1500.0,140.8 1479.2,158.7 1458.3,179.6 1441.9,194.5 1426.9,209.5 1404.5,228.9 1389.6,242.3 1374.7,254.3 1359.7,269.2 1338.8,293.0 1325.0,310.3 1313.0,320.6 1301.0,330.9 1289.0,341.2 1277.0,351.5 1265.0,361.8 1253.0,372.1 1241.0,382.4 1229.0,392.7 1217.0,403.0 1205.0,413.3 1193.0,423.6 1181.0,433.9 1169.0,444.3 1168.0,447.1 1135.2,449.7" fill="#bebebe" stroke="#bebebe" stroke-width="3" stroke-linejoin="round"/>
<g fill="#bebebe"><circle cx="1400.5" cy="207.8" r="3.1"/><circle cx="1480.7" cy="146.5" r="3.1"/><circle cx="1272.7" cy="306.7" r="3.1"/><circle cx="1415.6" cy="197.9" r="3.1"/><circle cx="1243.0" cy="329.4" r="3.1"/><circle cx="1429.8" cy="188.4" r="3.1"/><circle cx="1200.8" cy="368.7" r="3.1"/><circle cx="1481.3" cy="147.1" r="3.1"/><circle cx="1493.2" cy="133.6" r="3.1"/><circle cx="1271.2" cy="310.5" r="3.1"/><circle cx="1499.2" cy="134.2" r="3.1"/><circle cx="1488.5" cy="140.4" r="3.1"/><circle cx="1262.1" cy="313.1" r="3.1"/><circle cx="1153.1" cy="410.8" r="3.1"/><circle cx="1184.6" cy="380.1" r="3.1"/><circle cx="1449.3" cy="167.6" r="3.1"/><circle cx="1287.2" cy="294.2" r="3.1"/><circle cx="1254.9" cy="319.2" r="3.1"/><circle cx="1446.3" cy="168.4" r="3.1"/><circle cx="1172.3" cy="392.8" r="3.1"/><circle cx="1468.7" cy="158.9" r="3.1"/><circle cx="1352.3" cy="243.0" r="3.1"/><circle cx="1223.8" cy="351.6" r="3.1"/><circle cx="1392.1" cy="211.9" r="3.1"/><circle cx="1301.7" cy="282.6" r="3.1"/><circle cx="1227.6" cy="347.2" r="3.1"/><circle cx="1209.3" cy="363.5" r="3.1"/><circle cx="1430.0" cy="184.7" r="3.1"/><circle cx="1253.8" cy="319.4" r="3.1"/><circle cx="1424.9" cy="186.5" r="3.1"/><circle cx="1329.6" cy="264.8" r="3.1"/><circle cx="1494.1" cy="133.8" r="3.1"/><circle cx="1293.1" cy="287.1" r="3.1"/><circle cx="1274.7" cy="306.8" r="3.1"/><circle cx="1458.9" cy="163.9" r="3.1"/><circle cx="1240.7" cy="334.6" r="3.1"/><circle cx="1200.2" cy="365.9" r="3.1"/><circle cx="1472.5" cy="154.0" r="3.1"/><circle cx="1496.3" cy="137.3" r="3.1"/><circle cx="1393.9" cy="212.1" r="3.1"/><circle cx="1452.0" cy="167.3" r="3.1"/><circle cx="1234.4" cy="340.4" r="3.1"/><circle cx="1342.8" cy="251.2" r="3.1"/><circle cx="1273.3" cy="309.4" r="3.1"/><circle cx="1182.3" cy="383.2" r="3.1"/><circle cx="1246.7" cy="326.2" r="3.1"/><circle cx="1358.4" cy="235.6" r="3.1"/><circle cx="1241.1" cy="331.3" r="3.1"/><circle cx="1208.3" cy="359.8" r="3.1"/><circle cx="1179.5" cy="387.4" r="3.1"/><circle cx="1177.4" cy="388.6" r="3.1"/><circle cx="1228.5" cy="345.4" r="3.1"/><circle cx="1327.6" cy="264.0" r="3.1"/><circle cx="1495.2" cy="136.9" r="3.1"/><circle cx="1200.6" cy="369.7" r="3.1"/><circle cx="1444.1" cy="175.9" r="3.1"/><circle cx="1186.9" cy="381.0" r="3.1"/><circle cx="1466.7" cy="158.3" r="3.1"/><circle cx="1302.0" cy="280.6" r="3.1"/><circle cx="1481.3" cy="150.6" r="3.1"/><circle cx="1493.9" cy="138.0" r="3.1"/><circle cx="1495.2" cy="137.9" r="3.1"/><circle cx="1270.0" cy="310.9" r="3.1"/><circle cx="1194.5" cy="371.9" r="3.1"/><circle cx="1461.2" cy="159.6" r="3.1"/><circle cx="1264.1" cy="311.4" r="3.1"/><circle cx="1221.2" cy="350.1" r="3.1"/><circle cx="1336.5" cy="254.9" r="3.1"/><circle cx="1181.9" cy="385.2" r="3.1"/><circle cx="1240.0" cy="334.5" r="3.1"/><circle cx="1380.1" cy="221.2" r="3.1"/><circle cx="1354.9" cy="241.8" r="3.1"/><circle cx="1427.7" cy="186.8" r="3.1"/><circle cx="1175.7" cy="387.4" r="3.1"/><circle cx="1271.0" cy="306.7" r="3.1"/><circle cx="1172.7" cy="393.6" r="3.1"/><circle cx="1167.9" cy="398.1" r="3.1"/><circle cx="1199.3" cy="372.8" r="3.1"/><circle cx="1440.8" cy="179.2" r="3.1"/><circle cx="1491.7" cy="138.5" r="3.1"/><circle cx="1479.9" cy="151.0" r="3.1"/><circle cx="1196.1" cy="372.8" r="3.1"/><circle cx="1194.6" cy="373.8" r="3.1"/><circle cx="1227.7" cy="342.0" r="3.1"/><circle cx="1202.6" cy="369.4" r="3.1"/><circle cx="1468.7" cy="156.3" r="3.1"/><circle cx="1311.2" cy="276.4" r="3.1"/><circle cx="1335.9" cy="255.2" r="3.1"/><circle cx="1497.8" cy="137.3" r="3.1"/><circle cx="1234.8" cy="338.6" r="3.1"/><circle cx="1427.5" cy="188.3" r="3.1"/><circle cx="1171.1" cy="393.3" r="3.1"/><circle cx="1498.9" cy="134.9" r="3.1"/><circle cx="1149.2" cy="411.6" r="3.1"/><circle cx="1275.2" cy="304.2" r="3.1"/><circle cx="1215.9" cy="350.6" r="3.1"/><circle cx="1247.1" cy="326.5" r="3.1"/><circle cx="1357.0" cy="239.6" r="3.1"/><circle cx="1281.4" cy="299.6" r="3.1"/><circle cx="1188.3" cy="381.3" r="3.1"/><circle cx="1427.5" cy="185.0" r="3.1"/><circle cx="1382.9" cy="221.9" r="3.1"/><circle cx="1276.7" cy="302.8" r="3.1"/><circle cx="1465.6" cy="158.8" r="3.1"/><circle cx="1212.6" cy="356.8" r="3.1"/><circle cx="1341.9" cy="247.6" r="3.1"/><circle cx="1357.4" cy="241.8" r="3.1"/><circle cx="1201.2" cy="364.7" r="3.1"/><circle cx="1477.5" cy="150.2" r="3.1"/><circle cx="1461.6" cy="162.8" r="3.1"/><circle cx="1269.7" cy="306.0" r="3.1"/><circle cx="1155.8" cy="408.9" r="3.1"/><circle cx="1460.2" cy="162.1" r="3.1"/><circle cx="1274.9" cy="303.6" r="3.1"/><circle cx="1393.7" cy="214.6" r="3.1"/><circle cx="1152.3" cy="409.9" r="3.1"/><circle cx="1490.0" cy="141.5" r="3.1"/><circle cx="1239.4" cy="337.4" r="3.1"/><circle cx="1407.4" cy="203.9" r="3.1"/><circle cx="1463.0" cy="161.7" r="3.1"/><circle cx="1431.9" cy="202.1" r="3.1"/><circle cx="1330.5" cy="302.0" r="3.1"/><circle cx="1497.0" cy="143.9" r="3.1"/><circle cx="1390.4" cy="240.2" r="3.1"/><circle cx="1447.1" cy="191.4" r="3.1"/><circle cx="1498.6" cy="141.8" r="3.1"/><circle cx="1338.4" cy="292.8" r="3.1"/><circle cx="1386.0" cy="242.1" r="3.1"/><circle cx="1481.8" cy="159.6" r="3.1"/><circle cx="1462.1" cy="175.4" r="3.1"/><circle cx="1477.4" cy="162.7" r="3.1"/><circle cx="1418.9" cy="213.8" r="3.1"/><circle cx="1403.3" cy="229.3" r="3.1"/><circle cx="1393.0" cy="239.6" r="3.1"/><circle cx="1410.2" cy="221.6" r="3.1"/><circle cx="1379.4" cy="248.9" r="3.1"/><circle cx="1486.9" cy="152.7" r="3.1"/><circle cx="1465.6" cy="170.9" r="3.1"/><circle cx="1356.3" cy="276.9" r="3.1"/><circle cx="1490.2" cy="148.5" r="3.1"/><circle cx="1442.4" cy="196.8" r="3.1"/><circle cx="1356.0" cy="274.8" r="3.1"/><circle cx="1426.0" cy="207.4" r="3.1"/><circle cx="1470.9" cy="169.8" r="3.1"/><circle cx="1464.9" cy="171.8" r="3.1"/><circle cx="1377.0" cy="253.1" r="3.1"/><circle cx="1490.8" cy="147.6" r="3.1"/><circle cx="1348.1" cy="283.5" r="3.1"/><circle cx="1425.4" cy="209.6" r="3.1"/><circle cx="1328.6" cy="303.8" r="3.1"/><circle cx="1443.3" cy="193.3" r="3.1"/><circle cx="1401.2" cy="233.0" r="3.1"/><circle cx="1334.3" cy="298.2" r="3.1"/><circle cx="1432.6" cy="203.9" r="3.1"/><circle cx="1334.4" cy="294.9" r="3.1"/><circle cx="1394.3" cy="236.2" r="3.1"/><circle cx="1439.8" cy="201.4" r="3.1"/><circle cx="1440.0" cy="193.9" r="3.1"/><circle cx="1445.9" cy="191.6" r="3.1"/><circle cx="1441.8" cy="195.5" r="3.1"/><circle cx="1379.8" cy="250.1" r="3.1"/><circle cx="1378.8" cy="251.8" r="3.1"/><circle cx="1372.7" cy="256.3" r="3.1"/><circle cx="1486.1" cy="154.2" r="3.1"/><circle cx="1330.9" cy="305.4" r="3.1"/><circle cx="1327.4" cy="308.9" r="3.1"/><circle cx="1366.5" cy="262.2" r="3.1"/><circle cx="1385.0" cy="246.8" r="3.1"/><circle cx="1453.3" cy="183.6" r="3.1"/><circle cx="1326.5" cy="309.1" r="3.1"/><circle cx="1442.3" cy="191.0" r="3.1"/><circle cx="1358.6" cy="267.1" r="3.1"/><circle cx="1440.4" cy="199.6" r="3.1"/><circle cx="1353.7" cy="277.8" r="3.1"/><circle cx="1430.7" cy="206.5" r="3.1"/><circle cx="1395.8" cy="238.6" r="3.1"/><circle cx="1425.0" cy="209.9" r="3.1"/><circle cx="1464.0" cy="175.1" r="3.1"/><circle cx="1419.8" cy="212.9" r="3.1"/><circle cx="1376.1" cy="254.7" r="3.1"/><circle cx="1333.3" cy="299.3" r="3.1"/><circle cx="1341.4" cy="295.1" r="3.1"/><circle cx="1369.2" cy="259.3" r="3.1"/><circle cx="1434.7" cy="200.7" r="3.1"/><circle cx="1452.7" cy="187.0" r="3.1"/><circle cx="1381.1" cy="248.7" r="3.1"/><circle cx="1444.9" cy="193.1" r="3.1"/><circle cx="1436.8" cy="197.8" r="3.1"/><circle cx="1378.9" cy="252.5" r="3.1"/><circle cx="1419.2" cy="216.0" r="3.1"/><circle cx="1368.5" cy="262.0" r="3.1"/><circle cx="1400.7" cy="230.9" r="3.1"/><circle cx="1463.4" cy="177.9" r="3.1"/><circle cx="1448.3" cy="188.4" r="3.1"/><circle cx="1493.0" cy="144.0" r="3.1"/><circle cx="1335.1" cy="293.9" r="3.1"/><circle cx="1367.3" cy="262.0" r="3.1"/><circle cx="1357.6" cy="274.2" r="3.1"/><circle cx="1466.7" cy="174.6" r="3.1"/><circle cx="1422.9" cy="214.0" r="3.1"/><circle cx="1362.2" cy="262.9" r="3.1"/><circle cx="1383.8" cy="245.6" r="3.1"/><circle cx="1491.5" cy="151.0" r="3.1"/><circle cx="1434.1" cy="204.3" r="3.1"/><circle cx="1495.3" cy="145.1" r="3.1"/><circle cx="1365.9" cy="264.1" r="3.1"/><circle cx="1375.1" cy="253.2" r="3.1"/><circle cx="1392.2" cy="238.5" r="3.1"/><circle cx="1389.9" cy="240.2" r="3.1"/><circle cx="1458.3" cy="181.2" r="3.1"/><circle cx="1403.4" cy="229.9" r="3.1"/><circle cx="1349.7" cy="281.8" r="3.1"/><circle cx="1398.0" cy="236.7" r="3.1"/><circle cx="1418.4" cy="216.1" r="3.1"/><circle cx="1406.1" cy="225.5" r="3.1"/><circle cx="1361.5" cy="265.7" r="3.1"/><circle cx="1425.9" cy="210.4" r="3.1"/><circle cx="1491.5" cy="148.0" r="3.1"/><circle cx="1336.6" cy="291.9" r="3.1"/><circle cx="1428.9" cy="208.7" r="3.1"/><circle cx="1485.1" cy="156.0" r="3.1"/><circle cx="1337.1" cy="297.0" r="3.1"/><circle cx="1475.1" cy="163.4" r="3.1"/><circle cx="1454.5" cy="179.3" r="3.1"/><circle cx="1460.4" cy="177.6" r="3.1"/><circle cx="1445.2" cy="190.6" r="3.1"/><circle cx="1419.9" cy="211.2" r="3.1"/><circle cx="1331.6" cy="302.4" r="3.1"/><circle cx="1332.7" cy="303.9" r="3.1"/><circle cx="1382.6" cy="249.4" r="3.1"/><circle cx="1485.8" cy="155.9" r="3.1"/><circle cx="1449.6" cy="185.2" r="3.1"/><circle cx="1369.3" cy="255.5" r="3.1"/><circle cx="1500.2" cy="143.9" r="3.1"/><circle cx="1472.2" cy="163.6" r="3.1"/><circle cx="1409.0" cy="225.1" r="3.1"/><circle cx="1442.0" cy="195.1" r="3.1"/><circle cx="1443.8" cy="191.6" r="3.1"/><circle cx="1369.5" cy="260.4" r="3.1"/><circle cx="1482.1" cy="151.7" r="3.1"/><circle cx="1565.8" cy="79.5" r="3.1"/><circle cx="1506.1" cy="125.1" r="3.1"/><circle cx="1513.6" cy="131.1" r="3.1"/><circle cx="1492.7" cy="151.2" r="3.1"/><circle cx="1474.0" cy="146.8" r="3.1"/><circle cx="1434.4" cy="170.3" r="3.1"/><circle cx="1424.7" cy="184.8" r="3.1"/><circle cx="1380.6" cy="219.2" r="3.1"/><circle cx="1414.2" cy="230.4" r="3.1"/><circle cx="1405.7" cy="238.6" r="3.1"/><circle cx="1380.6" cy="264.0" r="3.1"/><circle cx="1397.8" cy="246.1" r="3.1"/></g>
<g fill="#ff0000"><circle cx="1144.0" cy="353.6" r="3.3"/><circle cx="1177.5" cy="336.9" r="3.3"/><circle cx="1196.5" cy="342.2" r="3.3"/><circle cx="1152.2" cy="368.5" r="3.3"/><circle cx="1156.6" cy="374.8" r="3.3"/><circle cx="1154.1" cy="381.4" r="3.3"/><circle cx="1144.0" cy="386.5" r="3.3"/><circle cx="1153.5" cy="390.0" r="3.3"/><circle cx="1170.3" cy="371.6" r="3.3"/><circle cx="1173.3" cy="380.2" r="3.3"/><circle cx="1182.8" cy="381.4" r="3.3"/><circle cx="1166.8" cy="389.6" r="3.3"/><circle cx="1170.5" cy="388.4" r="3.3"/><circle cx="1161.7" cy="399.1" r="3.3"/><circle cx="1165.5" cy="397.2" r="3.3"/><circle cx="1145.3" cy="401.0" r="3.3"/><circle cx="1150.3" cy="399.1" r="3.3"/><circle cx="1154.1" cy="402.9" r="3.3"/><circle cx="1157.9" cy="403.5" r="3.3"/><circle cx="1142.1" cy="406.7" r="3.3"/><circle cx="1147.2" cy="408.0" r="3.3"/><circle cx="1151.6" cy="410.5" r="3.3"/><circle cx="1140.2" cy="413.0" r="3.3"/><circle cx="1139.0" cy="418.1" r="3.3"/><circle cx="1142.7" cy="415.5" r="3.3"/><circle cx="1190.8" cy="348.6" r="3.3"/><circle cx="1194.6" cy="351.1" r="3.3"/><circle cx="1195.8" cy="353.0" r="3.3"/><circle cx="1187.0" cy="356.1" r="3.3"/><circle cx="1189.5" cy="353.6" r="3.3"/><circle cx="1203.4" cy="353.6" r="3.3"/><circle cx="1204.7" cy="352.4" r="3.3"/><circle cx="1199.6" cy="359.9" r="3.3"/><circle cx="1198.3" cy="363.7" r="3.3"/><circle cx="1200.9" cy="366.3" r="3.3"/><circle cx="1195.8" cy="369.4" r="3.3"/><circle cx="1185.7" cy="365.6" r="3.3"/><circle cx="1188.9" cy="368.2" r="3.3"/><circle cx="1216.0" cy="324.6" r="3.3"/><circle cx="1221.1" cy="325.2" r="3.3"/><circle cx="1227.4" cy="323.3" r="3.3"/><circle cx="1214.1" cy="329.6" r="3.3"/><circle cx="1237.5" cy="313.2" r="3.3"/><circle cx="1235.6" cy="326.5" r="3.3"/><circle cx="1231.2" cy="332.1" r="3.3"/><circle cx="1237.5" cy="333.4" r="3.3"/><circle cx="1240.0" cy="332.8" r="3.3"/><circle cx="1219.8" cy="337.2" r="3.3"/><circle cx="1223.6" cy="338.5" r="3.3"/><circle cx="1231.2" cy="337.2" r="3.3"/><circle cx="1218.6" cy="344.8" r="3.3"/><circle cx="1222.4" cy="346.0" r="3.3"/><circle cx="1246.4" cy="322.0" r="3.3"/><circle cx="1250.2" cy="323.9" r="3.3"/><circle cx="1256.5" cy="318.2" r="3.3"/><circle cx="1261.5" cy="311.9" r="3.3"/><circle cx="1266.6" cy="309.4" r="3.3"/><circle cx="1269.1" cy="306.2" r="3.3"/><circle cx="1273.5" cy="298.0" r="3.3"/><circle cx="1281.1" cy="294.9" r="3.3"/><circle cx="1272.9" cy="276.8" r="3.3"/><circle cx="1293.8" cy="287.3" r="3.3"/><circle cx="1306.4" cy="273.4" r="3.3"/><circle cx="1324.1" cy="258.8" r="3.3"/><circle cx="1170.5" cy="445.9" r="3.3"/><circle cx="1174.3" cy="446.5" r="3.3"/><circle cx="1179.4" cy="440.8" r="3.3"/><circle cx="1183.2" cy="442.1" r="3.3"/><circle cx="1190.1" cy="444.6" r="3.3"/><circle cx="1194.6" cy="442.1" r="3.3"/><circle cx="1195.8" cy="439.5" r="3.3"/><circle cx="1200.9" cy="436.4" r="3.3"/><circle cx="1202.1" cy="438.3" r="3.3"/><circle cx="1212.2" cy="438.3" r="3.3"/><circle cx="1245.1" cy="440.2" r="3.3"/><circle cx="1190.8" cy="429.4" r="3.3"/><circle cx="1194.6" cy="426.3" r="3.3"/><circle cx="1198.3" cy="424.4" r="3.3"/><circle cx="1200.9" cy="420.6" r="3.3"/><circle cx="1204.7" cy="425.0" r="3.3"/><circle cx="1208.5" cy="425.6" r="3.3"/><circle cx="1208.5" cy="415.5" r="3.3"/><circle cx="1212.2" cy="413.0" r="3.3"/><circle cx="1216.0" cy="409.2" r="3.3"/><circle cx="1218.6" cy="418.1" r="3.3"/><circle cx="1216.0" cy="420.6" r="3.3"/><circle cx="1221.1" cy="416.8" r="3.3"/><circle cx="1224.9" cy="421.2" r="3.3"/><circle cx="1223.6" cy="406.7" r="3.3"/><circle cx="1227.4" cy="400.4" r="3.3"/><circle cx="1231.2" cy="397.8" r="3.3"/><circle cx="1233.7" cy="404.2" r="3.3"/><circle cx="1231.2" cy="406.7" r="3.3"/><circle cx="1236.3" cy="394.1" r="3.3"/><circle cx="1238.8" cy="395.3" r="3.3"/><circle cx="1241.3" cy="386.5" r="3.3"/><circle cx="1246.4" cy="383.9" r="3.3"/><circle cx="1250.2" cy="380.2" r="3.3"/><circle cx="1252.7" cy="376.4" r="3.3"/><circle cx="1255.2" cy="373.8" r="3.3"/><circle cx="1254.6" cy="392.8" r="3.3"/><circle cx="1259.0" cy="383.3" r="3.3"/><circle cx="1265.3" cy="386.5" r="3.3"/><circle cx="1269.1" cy="386.5" r="3.3"/><circle cx="1260.3" cy="371.3" r="3.3"/><circle cx="1262.8" cy="368.8" r="3.3"/><circle cx="1265.3" cy="363.7" r="3.3"/><circle cx="1266.6" cy="370.0" r="3.3"/><circle cx="1271.6" cy="371.3" r="3.3"/><circle cx="1273.5" cy="371.9" r="3.3"/><circle cx="1270.4" cy="378.9" r="3.3"/><circle cx="1271.0" cy="376.4" r="3.3"/><circle cx="1276.1" cy="356.1" r="3.3"/><circle cx="1281.7" cy="361.2" r="3.3"/><circle cx="1282.4" cy="368.8" r="3.3"/><circle cx="1283.0" cy="353.0" r="3.3"/><circle cx="1289.3" cy="375.7" r="3.3"/><circle cx="1293.8" cy="351.1" r="3.3"/><circle cx="1294.4" cy="348.6" r="3.3"/><circle cx="1296.9" cy="339.7" r="3.3"/><circle cx="1301.3" cy="346.0" r="3.3"/><circle cx="1304.5" cy="356.1" r="3.3"/><circle cx="1305.8" cy="358.7" r="3.3"/><circle cx="1310.8" cy="375.7" r="3.3"/><circle cx="1312.1" cy="346.7" r="3.3"/><circle cx="1309.5" cy="337.2" r="3.3"/><circle cx="1305.8" cy="334.7" r="3.3"/><circle cx="1319.7" cy="325.8" r="3.3"/><circle cx="1322.2" cy="329.0" r="3.3"/><circle cx="1321.6" cy="316.3" r="3.3"/><circle cx="1323.4" cy="365.6" r="3.3"/><circle cx="1327.2" cy="319.5" r="3.3"/><circle cx="1336.7" cy="315.1" r="3.3"/><circle cx="1213.5" cy="411.7" r="3.3"/><circle cx="1217.3" cy="414.3" r="3.3"/><circle cx="1209.7" cy="419.3" r="3.3"/><circle cx="1205.9" cy="421.9" r="3.3"/><circle cx="1228.7" cy="402.9" r="3.3"/><circle cx="1233.7" cy="400.4" r="3.3"/><circle cx="1245.1" cy="382.7" r="3.3"/><circle cx="1247.6" cy="385.8" r="3.3"/><circle cx="1240.0" cy="389.0" r="3.3"/><circle cx="1198.3" cy="430.7" r="3.3"/><circle cx="1203.4" cy="428.2" r="3.3"/><circle cx="1392.6" cy="195.6" r="3.3"/><circle cx="1495.6" cy="172.4" r="3.3"/><circle cx="1468.8" cy="194.8" r="3.3"/><circle cx="1459.5" cy="208.4" r="3.3"/><circle cx="1414.2" cy="252.5" r="3.3"/><circle cx="1393.8" cy="265.2" r="3.3"/><circle cx="1374.7" cy="281.9" r="3.3"/><circle cx="1379.2" cy="286.4" r="3.3"/><circle cx="1364.2" cy="284.9" r="3.3"/><circle cx="1359.7" cy="290.6" r="3.3"/><circle cx="1353.8" cy="292.7" r="3.3"/><circle cx="1323.9" cy="258.8" r="3.3"/><circle cx="1306.0" cy="273.7" r="3.3"/><circle cx="1314.9" cy="241.1" r="3.3"/><circle cx="1301.5" cy="246.1" r="3.3"/><circle cx="1304.5" cy="248.3" r="3.3"/><circle cx="1215.5" cy="196.7" r="3.3"/><circle cx="1424.5" cy="361.0" r="3.3"/><circle cx="1323.4" cy="365.3" r="3.3"/><circle cx="1310.8" cy="375.9" r="3.3"/><circle cx="1289.5" cy="375.9" r="3.3"/><circle cx="1245.0" cy="440.5" r="3.3"/><circle cx="1212.0" cy="438.5" r="3.3"/><circle cx="1314.8" cy="241.0" r="3.3"/><circle cx="1272.3" cy="276.8" r="3.3"/><circle cx="1293.9" cy="287.5" r="3.3"/><circle cx="1281.0" cy="295.0" r="3.3"/><circle cx="1273.5" cy="297.8" r="3.3"/><circle cx="1350.4" cy="302.1" r="3.3"/><circle cx="1352.7" cy="317.9" r="3.3"/><circle cx="1337.0" cy="314.4" r="3.3"/><circle cx="1327.5" cy="319.0" r="3.3"/><circle cx="1321.0" cy="315.6" r="3.3"/><circle cx="1321.1" cy="327.1" r="3.3"/><circle cx="1322.3" cy="329.1" r="3.3"/><circle cx="1318.3" cy="324.2" r="3.3"/><circle cx="1205.6" cy="421.5" r="3.3"/><circle cx="1206.7" cy="415.3" r="3.3"/><circle cx="1210.0" cy="411.3" r="3.3"/><circle cx="1210.3" cy="410.1" r="3.3"/><circle cx="1219.5" cy="401.3" r="3.3"/><circle cx="1194.0" cy="424.5" r="3.3"/><circle cx="1177.3" cy="439.4" r="3.3"/><circle cx="1173.5" cy="446.3" r="3.3"/><circle cx="1247.1" cy="383.0" r="3.3"/><circle cx="1218.4" cy="403.1" r="3.3"/><circle cx="1182.5" cy="437.6" r="3.3"/><circle cx="1174.9" cy="439.6" r="3.3"/><circle cx="1185.1" cy="430.4" r="3.3"/><circle cx="1206.5" cy="413.0" r="3.3"/><circle cx="1204.7" cy="416.3" r="3.3"/><circle cx="1220.3" cy="404.3" r="3.3"/><circle cx="1209.3" cy="412.0" r="3.3"/><circle cx="1192.0" cy="428.4" r="3.3"/><circle cx="1248.3" cy="384.0" r="3.3"/><circle cx="1225.6" cy="395.8" r="3.3"/><circle cx="1194.9" cy="422.4" r="3.3"/><circle cx="1175.7" cy="441.8" r="3.3"/><circle cx="1230.2" cy="398.2" r="3.3"/><circle cx="1200.5" cy="421.9" r="3.3"/><circle cx="1245.2" cy="378.9" r="3.3"/><circle cx="1186.6" cy="429.2" r="3.3"/><circle cx="1241.4" cy="393.4" r="3.3"/><circle cx="1201.3" cy="418.6" r="3.3"/><circle cx="1175.9" cy="443.2" r="3.3"/><circle cx="1191.3" cy="430.3" r="3.3"/><circle cx="1177.0" cy="442.6" r="3.3"/><circle cx="1229.5" cy="401.5" r="3.3"/><circle cx="1179.4" cy="435.3" r="3.3"/><circle cx="1174.9" cy="441.0" r="3.3"/><circle cx="1232.6" cy="391.9" r="3.3"/><circle cx="1205.2" cy="417.8" r="3.3"/><circle cx="1185.1" cy="430.6" r="3.3"/><circle cx="1220.6" cy="402.1" r="3.3"/><circle cx="1179.3" cy="437.8" r="3.3"/><circle cx="1191.3" cy="426.4" r="3.3"/><circle cx="1246.2" cy="379.1" r="3.3"/><circle cx="1239.5" cy="387.0" r="3.3"/><circle cx="1186.7" cy="435.4" r="3.3"/><circle cx="1220.4" cy="405.0" r="3.3"/><circle cx="1178.1" cy="439.3" r="3.3"/><circle cx="1190.4" cy="426.0" r="3.3"/><circle cx="1230.7" cy="392.9" r="3.3"/><circle cx="1176.0" cy="441.3" r="3.3"/><circle cx="1177.3" cy="439.8" r="3.3"/><circle cx="1217.3" cy="404.3" r="3.3"/><circle cx="1199.3" cy="428.2" r="3.3"/><circle cx="1208.1" cy="413.7" r="3.3"/><circle cx="1215.2" cy="406.3" r="3.3"/><circle cx="1182.3" cy="434.8" r="3.3"/><circle cx="1241.3" cy="383.4" r="3.3"/><circle cx="1145.2" cy="412.2" r="3.3"/><circle cx="1164.2" cy="396.3" r="3.3"/><circle cx="1171.5" cy="392.0" r="3.3"/><circle cx="1169.1" cy="390.9" r="3.3"/><circle cx="1142.2" cy="415.1" r="3.3"/><circle cx="1139.9" cy="416.6" r="3.3"/><circle cx="1163.0" cy="399.6" r="3.3"/><circle cx="1147.5" cy="410.7" r="3.3"/><circle cx="1148.8" cy="406.5" r="3.3"/><circle cx="1144.7" cy="415.9" r="3.3"/><circle cx="1146.5" cy="412.7" r="3.3"/><circle cx="1158.0" cy="400.5" r="3.3"/><circle cx="1148.3" cy="407.4" r="3.3"/><circle cx="1170.4" cy="393.9" r="3.3"/><circle cx="1147.9" cy="412.5" r="3.3"/><circle cx="1154.0" cy="405.2" r="3.3"/><circle cx="1151.4" cy="409.3" r="3.3"/><circle cx="1158.4" cy="401.1" r="3.3"/><circle cx="1169.4" cy="391.4" r="3.3"/><circle cx="1172.5" cy="387.9" r="3.3"/></g>
<line x1="1107.0" y1="447.3" x2="1618.7" y2="7.8" stroke="#2e2e9e" stroke-width="1.2" stroke-dasharray="3,3"/>
<line x1="1107.0" y1="499.0" x2="1618.7" y2="59.6" stroke="#2e2e9e" stroke-width="1.2" stroke-dasharray="3,3"/>
</g>
<rect x="1120.4" y="65.0" width="462.6" height="397.4" fill="none" stroke="#222" stroke-width="1.3" />
<line x1="1137.1" y1="462.4" x2="1137.1" y2="469.8" stroke="#222" stroke-width="1.2" />
<text x="1137.1" y="490.7" font-family="'DejaVu Sans Mono','Liberation Mono',monospace" font-size="12.8" text-anchor="middle" >0</text>
<line x1="1113.3" y1="447.3" x2="1120.4" y2="447.3" stroke="#222" stroke-width="1.2" />
<text x="1103.3" y="447.3" font-family="'DejaVu Sans Mono','Liberation Mono',monospace" font-size="12.6" text-anchor="middle" transform="rotate(-90 1103.3 447.3)" >0</text>
<line x1="1197.3" y1="462.4" x2="1197.3" y2="469.8" stroke="#222" stroke-width="1.2" />
<text x="1197.3" y="490.7" font-family="'DejaVu Sans Mono','Liberation Mono',monospace" font-size="12.8" text-anchor="middle" >2</text>
<line x1="1113.3" y1="395.6" x2="1120.4" y2="395.6" stroke="#222" stroke-width="1.2" />
<text x="1103.3" y="395.6" font-family="'DejaVu Sans Mono','Liberation Mono',monospace" font-size="12.6" text-anchor="middle" transform="rotate(-90 1103.3 395.6)" >2</text>
<line x1="1257.5" y1="462.4" x2="1257.5" y2="469.8" stroke="#222" stroke-width="1.2" />
<text x="1257.5" y="490.7" font-family="'DejaVu Sans Mono','Liberation Mono',monospace" font-size="12.8" text-anchor="middle" >4</text>
<line x1="1113.3" y1="343.9" x2="1120.4" y2="343.9" stroke="#222" stroke-width="1.2" />
<text x="1103.3" y="343.9" font-family="'DejaVu Sans Mono','Liberation Mono',monospace" font-size="12.6" text-anchor="middle" transform="rotate(-90 1103.3 343.9)" >4</text>
<line x1="1317.7" y1="462.4" x2="1317.7" y2="469.8" stroke="#222" stroke-width="1.2" />
<text x="1317.7" y="490.7" font-family="'DejaVu Sans Mono','Liberation Mono',monospace" font-size="12.8" text-anchor="middle" >6</text>
<line x1="1113.3" y1="292.2" x2="1120.4" y2="292.2" stroke="#222" stroke-width="1.2" />
<text x="1103.3" y="292.2" font-family="'DejaVu Sans Mono','Liberation Mono',monospace" font-size="12.6" text-anchor="middle" transform="rotate(-90 1103.3 292.2)" >6</text>
<line x1="1377.9" y1="462.4" x2="1377.9" y2="469.8" stroke="#222" stroke-width="1.2" />
<text x="1377.9" y="490.7" font-family="'DejaVu Sans Mono','Liberation Mono',monospace" font-size="12.8" text-anchor="middle" >8</text>
<line x1="1113.3" y1="240.5" x2="1120.4" y2="240.5" stroke="#222" stroke-width="1.2" />
<text x="1103.3" y="240.5" font-family="'DejaVu Sans Mono','Liberation Mono',monospace" font-size="12.6" text-anchor="middle" transform="rotate(-90 1103.3 240.5)" >8</text>
<line x1="1438.1" y1="462.4" x2="1438.1" y2="469.8" stroke="#222" stroke-width="1.2" />
<text x="1438.1" y="490.7" font-family="'DejaVu Sans Mono','Liberation Mono',monospace" font-size="12.8" text-anchor="middle" >10</text>
<line x1="1113.3" y1="188.8" x2="1120.4" y2="188.8" stroke="#222" stroke-width="1.2" />
<text x="1103.3" y="188.8" font-family="'DejaVu Sans Mono','Liberation Mono',monospace" font-size="12.6" text-anchor="middle" transform="rotate(-90 1103.3 188.8)" >10</text>
<line x1="1498.3" y1="462.4" x2="1498.3" y2="469.8" stroke="#222" stroke-width="1.2" />
<text x="1498.3" y="490.7" font-family="'DejaVu Sans Mono','Liberation Mono',monospace" font-size="12.8" text-anchor="middle" >12</text>
<line x1="1113.3" y1="137.1" x2="1120.4" y2="137.1" stroke="#222" stroke-width="1.2" />
<text x="1103.3" y="137.1" font-family="'DejaVu Sans Mono','Liberation Mono',monospace" font-size="12.6" text-anchor="middle" transform="rotate(-90 1103.3 137.1)" >12</text>
<line x1="1558.5" y1="462.4" x2="1558.5" y2="469.8" stroke="#222" stroke-width="1.2" />
<text x="1558.5" y="490.7" font-family="'DejaVu Sans Mono','Liberation Mono',monospace" font-size="12.8" text-anchor="middle" >14</text>
<line x1="1113.3" y1="85.4" x2="1120.4" y2="85.4" stroke="#222" stroke-width="1.2" />
<text x="1103.3" y="85.4" font-family="'DejaVu Sans Mono','Liberation Mono',monospace" font-size="12.6" text-anchor="middle" transform="rotate(-90 1103.3 85.4)" >14</text>
<text x="1225.2" y="520.7" font-family="'DejaVu Sans Mono','Liberation Mono',monospace" font-size="12.6" textLength="252.8" lengthAdjust="spacingAndGlyphs" >Expression Level of 15-Nor-BAT</text>
<text x="1073.6" y="260.4" font-family="'DejaVu Sans Mono','Liberation Mono',monospace" font-size="12.6" text-anchor="middle" textLength="247.0" lengthAdjust="spacingAndGlyphs" transform="rotate(-90 1073.6 260.4)" >Expression Level of 17-CIA-BAT</text>
<rect x="1645.4" y="64.9" width="114.5" height="40.7" fill="#fff" stroke="#222" stroke-width="1.3" />
<circle cx="1656.2" cy="78.5" r="2.9" fill="#bebebe"/><circle cx="1656.2" cy="92.3" r="2.9" fill="#ff0000"/>
<text x="1664.7" y="83.3" font-family="'DejaVu Sans Mono','Liberation Mono',monospace" font-size="10.4" textLength="89.2" lengthAdjust="spacingAndGlyphs" >No Significant</text>
<text x="1664.7" y="97.0" font-family="'DejaVu Sans Mono','Liberation Mono',monospace" font-size="10.4" textLength="44.6" lengthAdjust="spacingAndGlyphs" >|FC|>=2</text>
<text x="0" y="0" font-family="'Liberation Sans',Arial,sans-serif" font-weight="bold" font-size="76.84" transform="translate(1032.44 702.63) scale(0.8119 1)">C</text>
<text x="1189.0" y="642.1" font-family="'DejaVu Sans Mono','Liberation Mono',monospace" font-size="17.0" font-weight="bold" textLength="296.5" lengthAdjust="spacingAndGlyphs" >UP, DOWN regulated count</text>
<text x="1283.7" y="668.8" font-family="'DejaVu Sans Mono','Liberation Mono',monospace" font-size="17.0" font-weight="bold" textLength="108.0" lengthAdjust="spacingAndGlyphs" >(|FC|>=2)</text>
<rect x="1131.0" y="715.0" width="194.2" height="61.0" fill="#ffd700" stroke="#222" stroke-width="1.2" />
<rect x="1131.0" y="776.0" width="326.4" height="62.2" fill="#4169e1" stroke="#222" stroke-width="1.2" />
<line x1="1131.0" y1="842.0" x2="1544.2" y2="842.0" stroke="#222" stroke-width="1.3" />
<line x1="1131.0" y1="842.0" x2="1131.0" y2="851.8" stroke="#222" stroke-width="1.3" />
<text x="1131.0" y="875.2" font-family="'DejaVu Sans Mono','Liberation Mono',monospace" font-size="15" text-anchor="middle" >0</text>
<line x1="1234.3" y1="842.0" x2="1234.3" y2="851.8" stroke="#222" stroke-width="1.3" />
<text x="1234.3" y="875.2" font-family="'DejaVu Sans Mono','Liberation Mono',monospace" font-size="15" text-anchor="middle" >50</text>
<line x1="1337.6" y1="842.0" x2="1337.6" y2="851.8" stroke="#222" stroke-width="1.3" />
<text x="1337.6" y="875.2" font-family="'DejaVu Sans Mono','Liberation Mono',monospace" font-size="15" text-anchor="middle" >100</text>
<line x1="1440.9" y1="842.0" x2="1440.9" y2="851.8" stroke="#222" stroke-width="1.3" />
<text x="1440.9" y="875.2" font-family="'DejaVu Sans Mono','Liberation Mono',monospace" font-size="15" text-anchor="middle" >150</text>
<line x1="1544.2" y1="842.0" x2="1544.2" y2="851.8" stroke="#222" stroke-width="1.3" />
<text x="1544.2" y="875.2" font-family="'DejaVu Sans Mono','Liberation Mono',monospace" font-size="15" text-anchor="middle" >200</text>
<text x="1336.8" y="910.5" font-family="'DejaVu Sans Mono','Liberation Mono',monospace" font-size="15" text-anchor="middle" textLength="136.4" lengthAdjust="spacingAndGlyphs" >Count of genes</text>
<text x="1333.0" y="751.2" font-family="'DejaVu Sans Mono','Liberation Mono',monospace" font-size="15" font-weight="bold" textLength="19.8" lengthAdjust="spacingAndGlyphs" >94</text>
<text x="1466.0" y="813.0" font-family="'DejaVu Sans Mono','Liberation Mono',monospace" font-size="15" font-weight="bold" textLength="29.0" lengthAdjust="spacingAndGlyphs" >158</text>
<text x="1111.2" y="772.2" font-family="'DejaVu Sans Mono','Liberation Mono',monospace" font-size="15.2" text-anchor="end" textLength="97.8" lengthAdjust="spacingAndGlyphs" >17-CIA-BAT</text>
<text x="1111.2" y="794.6" font-family="'DejaVu Sans Mono','Liberation Mono',monospace" font-size="15.2" text-anchor="end" textLength="108.0" lengthAdjust="spacingAndGlyphs" >/15-Nor-BAT</text>
<rect x="1562.4" y="709.7" width="71.3" height="48.5" fill="#fff" stroke="#222" stroke-width="1.2" />
<rect x="1575.6" y="722.4" width="9.8" height="7.2" fill="#ffd700" stroke="#111" stroke-width="1.6" />
<rect x="1575.6" y="738.5" width="9.8" height="7.2" fill="#4169e1" stroke="#111" stroke-width="1.6" />
<text x="1596.8" y="731.5" font-family="'Liberation Sans',Arial,sans-serif" font-size="11.6" textLength="14.8" lengthAdjust="spacingAndGlyphs" >UP</text>
<text x="1596.8" y="747.6" font-family="'Liberation Sans',Arial,sans-serif" font-size="11.6" textLength="29.6" lengthAdjust="spacingAndGlyphs" >DOWN</text>
<text x="0" y="0" font-family="'Liberation Sans',Arial,sans-serif" font-weight="bold" font-size="76.74" transform="translate(99.32 1033.10) scale(0.9693 1)">D</text>
<text x="366.8" y="969.8" font-family="'Liberation Mono','DejaVu Sans Mono',monospace" font-size="19.4" font-weight="bold" textLength="209.6" lengthAdjust="spacingAndGlyphs" >Biological Process</text>
<text x="298.8" y="994.6" font-family="'DejaVu Sans Mono','Liberation Mono',monospace" font-size="15.6" fill="#111" textLength="345.6" lengthAdjust="spacingAndGlyphs" >Top 10 Terms of GO Functional Analysis</text>
<text x="308.1" y="1009.6" font-family="'Liberation Mono','DejaVu Sans Mono',monospace" font-size="14.2" fill="#808080" textLength="327.0" lengthAdjust="spacingAndGlyphs" >PValue&lt;0.05(<tspan fill="#ff0000">*</tspan>), 0.01(<tspan fill="#ff0000">**</tspan>), 0.001(<tspan fill="#ff0000">***</tspan>)</text>
<rect x="372.3" y="1025.8" width="475.7" height="595.0" fill="#ebebeb" />
<line x1="491.2" y1="1025.8" x2="491.2" y2="1620.8" stroke="#b4b4b4" stroke-width="1" stroke-dasharray="2,2"/>
<line x1="610.1" y1="1025.8" x2="610.1" y2="1620.8" stroke="#b4b4b4" stroke-width="1" stroke-dasharray="2,2"/>
<line x1="729.1" y1="1025.8" x2="729.1" y2="1620.8" stroke="#b4b4b4" stroke-width="1" stroke-dasharray="2,2"/>
<line x1="848.0" y1="1025.8" x2="848.0" y2="1620.8" stroke="#b4b4b4" stroke-width="1" stroke-dasharray="2,2"/>
<rect x="372.3" y="1048.2" width="352.0" height="28.5" fill="#f83030" />
<text x="733.3" y="1066.2" font-family="'Liberation Mono','DejaVu Sans Mono',monospace" font-size="15.15" fill="#ff0000" >***</text>
<line x1="362.3" y1="1062.5" x2="372.3" y2="1062.5" stroke="#555" stroke-width="1.3" />
<text x="352.3" y="1065.9" font-family="'Liberation Mono','DejaVu Sans Mono',monospace" font-size="15.15" text-anchor="end" fill="#1e1e1e" stroke="#1e1e1e" stroke-width="0.3">single-organism process</text>
<rect x="372.3" y="1106.2" width="366.3" height="28.5" fill="#f83030" />
<text x="747.6" y="1124.2" font-family="'Liberation Mono','DejaVu Sans Mono',monospace" font-size="15.15" fill="#ff0000" >***</text>
<line x1="362.3" y1="1120.5" x2="372.3" y2="1120.5" stroke="#555" stroke-width="1.3" />
<text x="352.3" y="1123.9" font-family="'Liberation Mono','DejaVu Sans Mono',monospace" font-size="15.15" text-anchor="end" fill="#1e1e1e" stroke="#1e1e1e" stroke-width="0.3">cellular process</text>
<rect x="372.3" y="1164.2" width="318.7" height="28.5" fill="#f83030" />
<text x="700.0" y="1182.2" font-family="'Liberation Mono','DejaVu Sans Mono',monospace" font-size="15.15" fill="#ff0000" >***</text>
<line x1="362.3" y1="1178.5" x2="372.3" y2="1178.5" stroke="#555" stroke-width="1.3" />
<text x="352.3" y="1181.9" font-family="'Liberation Mono','DejaVu Sans Mono',monospace" font-size="15.15" text-anchor="end" fill="#1e1e1e" stroke="#1e1e1e" stroke-width="0.3">single-organism cellular process</text>
<rect x="372.3" y="1222.3" width="199.8" height="28.5" fill="#f83030" />
<text x="581.1" y="1240.3" font-family="'Liberation Mono','DejaVu Sans Mono',monospace" font-size="15.15" fill="#ff0000" >***</text>
<line x1="362.3" y1="1236.5" x2="372.3" y2="1236.5" stroke="#555" stroke-width="1.3" />
<text x="352.3" y="1233.3" font-family="'Liberation Mono','DejaVu Sans Mono',monospace" font-size="15.15" text-anchor="end" fill="#1e1e1e" stroke="#1e1e1e" stroke-width="0.3">single-organism developmental</text>
<text x="352.3" y="1248.6" font-family="'Liberation Mono','DejaVu Sans Mono',monospace" font-size="15.15" text-anchor="end" fill="#1e1e1e" stroke="#1e1e1e" stroke-width="0.3">process</text>
<rect x="372.3" y="1280.3" width="290.2" height="28.5" fill="#f83030" />
<text x="671.5" y="1298.3" font-family="'Liberation Mono','DejaVu Sans Mono',monospace" font-size="15.15" fill="#ff0000" >***</text>
<line x1="362.3" y1="1294.5" x2="372.3" y2="1294.5" stroke="#555" stroke-width="1.3" />
<text x="352.3" y="1297.9" font-family="'Liberation Mono','DejaVu Sans Mono',monospace" font-size="15.15" text-anchor="end" fill="#1e1e1e" stroke="#1e1e1e" stroke-width="0.3">biological regulation</text>
<rect x="372.3" y="1338.3" width="199.8" height="28.5" fill="#f83030" />
<text x="581.1" y="1356.3" font-family="'Liberation Mono','DejaVu Sans Mono',monospace" font-size="15.15" fill="#ff0000" >***</text>
<line x1="362.3" y1="1352.6" x2="372.3" y2="1352.6" stroke="#555" stroke-width="1.3" />
<text x="352.3" y="1356.0" font-family="'Liberation Mono','DejaVu Sans Mono',monospace" font-size="15.15" text-anchor="end" fill="#1e1e1e" stroke="#1e1e1e" stroke-width="0.3">developmental process</text>
<rect x="372.3" y="1396.3" width="187.9" height="28.5" fill="#f83030" />
<text x="569.2" y="1414.3" font-family="'Liberation Mono','DejaVu Sans Mono',monospace" font-size="15.15" fill="#ff0000" >***</text>
<line x1="362.3" y1="1410.6" x2="372.3" y2="1410.6" stroke="#555" stroke-width="1.3" />
<text x="352.3" y="1414.0" font-family="'Liberation Mono','DejaVu Sans Mono',monospace" font-size="15.15" text-anchor="end" fill="#1e1e1e" stroke="#1e1e1e" stroke-width="0.3">anatomical structure development</text>
<rect x="372.3" y="1454.3" width="159.4" height="28.5" fill="#f83030" />
<text x="540.7" y="1472.3" font-family="'Liberation Mono','DejaVu Sans Mono',monospace" font-size="15.15" fill="#ff0000" >***</text>
<line x1="362.3" y1="1468.6" x2="372.3" y2="1468.6" stroke="#555" stroke-width="1.3" />
<text x="352.3" y="1472.0" font-family="'Liberation Mono','DejaVu Sans Mono',monospace" font-size="15.15" text-anchor="end" fill="#1e1e1e" stroke="#1e1e1e" stroke-width="0.3">cell differentiation</text>
<rect x="372.3" y="1512.4" width="164.1" height="28.5" fill="#f83030" />
<text x="545.4" y="1530.4" font-family="'Liberation Mono','DejaVu Sans Mono',monospace" font-size="15.15" fill="#ff0000" >***</text>
<line x1="362.3" y1="1526.6" x2="372.3" y2="1526.6" stroke="#555" stroke-width="1.3" />
<text x="352.3" y="1530.0" font-family="'Liberation Mono','DejaVu Sans Mono',monospace" font-size="15.15" text-anchor="end" fill="#1e1e1e" stroke="#1e1e1e" stroke-width="0.3">cellular developmental process</text>
<rect x="372.3" y="1570.4" width="275.9" height="28.5" fill="#f83030" />
<text x="657.2" y="1588.4" font-family="'Liberation Mono','DejaVu Sans Mono',monospace" font-size="15.15" fill="#ff0000" >***</text>
<line x1="362.3" y1="1584.6" x2="372.3" y2="1584.6" stroke="#555" stroke-width="1.3" />
<text x="352.3" y="1588.0" font-family="'Liberation Mono','DejaVu Sans Mono',monospace" font-size="15.15" text-anchor="end" fill="#1e1e1e" stroke="#1e1e1e" stroke-width="0.3">regulation of biological process</text>
<line x1="491.2" y1="1025.8" x2="491.2" y2="1620.8" stroke="#000" stroke-width="1" stroke-dasharray="2,2" stroke-opacity="0.12"/>
<line x1="610.1" y1="1025.8" x2="610.1" y2="1620.8" stroke="#000" stroke-width="1" stroke-dasharray="2,2" stroke-opacity="0.12"/>
<line x1="729.1" y1="1025.8" x2="729.1" y2="1620.8" stroke="#000" stroke-width="1" stroke-dasharray="2,2" stroke-opacity="0.12"/>
<line x1="372.3" y1="1025.8" x2="372.3" y2="1620.8" stroke="#333" stroke-width="1.3" />
<line x1="371.7" y1="1620.8" x2="848.6" y2="1620.8" stroke="#555" stroke-width="1.6" />
<line x1="372.3" y1="1620.8" x2="372.3" y2="1630.6" stroke="#555" stroke-width="1.6" />
<text x="372.3" y="1655.3" font-family="'DejaVu Sans Mono','Liberation Mono',monospace" font-size="14.8" text-anchor="middle" fill="#111" >0</text>
<line x1="491.2" y1="1620.8" x2="491.2" y2="1630.6" stroke="#555" stroke-width="1.6" />
<text x="491.2" y="1655.3" font-family="'DejaVu Sans Mono','Liberation Mono',monospace" font-size="14.8" text-anchor="middle" fill="#111" >50</text>
<line x1="610.1" y1="1620.8" x2="610.1" y2="1630.6" stroke="#555" stroke-width="1.6" />
<text x="610.1" y="1655.3" font-family="'DejaVu Sans Mono','Liberation Mono',monospace" font-size="14.8" text-anchor="middle" fill="#111" >100</text>
<line x1="729.1" y1="1620.8" x2="729.1" y2="1630.6" stroke="#555" stroke-width="1.6" />
<text x="729.1" y="1655.3" font-family="'DejaVu Sans Mono','Liberation Mono',monospace" font-size="14.8" text-anchor="middle" fill="#111" >150</text>
<line x1="848.0" y1="1620.8" x2="848.0" y2="1630.6" stroke="#555" stroke-width="1.6" />
<text x="848.0" y="1655.3" font-family="'DejaVu Sans Mono','Liberation Mono',monospace" font-size="14.8" text-anchor="middle" fill="#111" >200</text>
<text x="610.1" y="1693.1" font-family="'DejaVu Sans Mono','Liberation Mono',monospace" font-size="14.8" text-anchor="middle" fill="#111" >Count</text>
<text x="0" y="0" font-family="'Liberation Sans',Arial,sans-serif" font-weight="bold" font-size="76.16" transform="translate(974.83 1047.20) scale(0.7185 1)">E</text>
<text x="1273.9" y="982.7" font-family="'Liberation Mono','DejaVu Sans Mono',monospace" font-size="19.4" font-weight="bold" textLength="209.6" lengthAdjust="spacingAndGlyphs" >Molecular Function</text>
<text x="1205.9" y="1007.5" font-family="'DejaVu Sans Mono','Liberation Mono',monospace" font-size="15.6" fill="#111" textLength="345.6" lengthAdjust="spacingAndGlyphs" >Top 10 Terms of GO Functional Analysis</text>
<text x="1215.2" y="1022.5" font-family="'Liberation Mono','DejaVu Sans Mono',monospace" font-size="14.2" fill="#808080" textLength="327.0" lengthAdjust="spacingAndGlyphs" >PValue&lt;0.05(<tspan fill="#ff0000">*</tspan>), 0.01(<tspan fill="#ff0000">**</tspan>), 0.001(<tspan fill="#ff0000">***</tspan>)</text>
<rect x="1279.4" y="1038.7" width="475.7" height="595.0" fill="#ebebeb" />
<line x1="1398.3" y1="1038.7" x2="1398.3" y2="1633.7" stroke="#b4b4b4" stroke-width="1" stroke-dasharray="2,2"/>
<line x1="1517.2" y1="1038.7" x2="1517.2" y2="1633.7" stroke="#b4b4b4" stroke-width="1" stroke-dasharray="2,2"/>
<line x1="1636.2" y1="1038.7" x2="1636.2" y2="1633.7" stroke="#b4b4b4" stroke-width="1" stroke-dasharray="2,2"/>
<line x1="1755.1" y1="1038.7" x2="1755.1" y2="1633.7" stroke="#b4b4b4" stroke-width="1" stroke-dasharray="2,2"/>
<rect x="1279.4" y="1061.0" width="342.5" height="28.5" fill="#3030ff" />
<text x="1630.9" y="1079.0" font-family="'Liberation Mono','DejaVu Sans Mono',monospace" font-size="15.15" fill="#ff0000" >***</text>
<line x1="1269.4" y1="1075.2" x2="1279.4" y2="1075.2" stroke="#555" stroke-width="1.3" />
<text x="1259.4" y="1078.7" font-family="'Liberation Mono','DejaVu Sans Mono',monospace" font-size="15.15" text-anchor="end" fill="#1e1e1e" stroke="#1e1e1e" stroke-width="0.3">binding</text>
<rect x="1279.4" y="1119.1" width="254.5" height="28.5" fill="#3030ff" />
<text x="1542.9" y="1137.1" font-family="'Liberation Mono','DejaVu Sans Mono',monospace" font-size="15.15" fill="#ff0000" >***</text>
<line x1="1269.4" y1="1133.3" x2="1279.4" y2="1133.3" stroke="#555" stroke-width="1.3" />
<text x="1259.4" y="1136.7" font-family="'Liberation Mono','DejaVu Sans Mono',monospace" font-size="15.15" text-anchor="end" fill="#1e1e1e" stroke="#1e1e1e" stroke-width="0.3">protein binding</text>
<rect x="1279.4" y="1177.2" width="157.0" height="28.5" fill="#3030ff" />
<text x="1445.4" y="1195.2" font-family="'Liberation Mono','DejaVu Sans Mono',monospace" font-size="15.15" fill="#ff0000" >***</text>
<line x1="1269.4" y1="1191.4" x2="1279.4" y2="1191.4" stroke="#555" stroke-width="1.3" />
<text x="1259.4" y="1194.8" font-family="'Liberation Mono','DejaVu Sans Mono',monospace" font-size="15.15" text-anchor="end" fill="#1e1e1e" stroke="#1e1e1e" stroke-width="0.3">ion binding</text>
<rect x="1279.4" y="1235.2" width="61.8" height="28.5" fill="#3030ff" />
<text x="1350.2" y="1253.2" font-family="'Liberation Mono','DejaVu Sans Mono',monospace" font-size="15.15" fill="#ff0000" >***</text>
<line x1="1269.4" y1="1249.5" x2="1279.4" y2="1249.5" stroke="#555" stroke-width="1.3" />
<text x="1259.4" y="1252.9" font-family="'Liberation Mono','DejaVu Sans Mono',monospace" font-size="15.15" text-anchor="end" fill="#1e1e1e" stroke="#1e1e1e" stroke-width="0.3">cytoskeletal protein binding</text>
<rect x="1279.4" y="1293.3" width="147.5" height="28.5" fill="#3030ff" />
<text x="1435.9" y="1311.3" font-family="'Liberation Mono','DejaVu Sans Mono',monospace" font-size="15.15" fill="#ff0000" >***</text>
<line x1="1269.4" y1="1307.6" x2="1279.4" y2="1307.6" stroke="#555" stroke-width="1.3" />
<text x="1259.4" y="1311.0" font-family="'Liberation Mono','DejaVu Sans Mono',monospace" font-size="15.15" text-anchor="end" fill="#1e1e1e" stroke="#1e1e1e" stroke-width="0.3">catalytic activity</text>
<rect x="1279.4" y="1351.4" width="107.0" height="28.5" fill="#3030ff" />
<text x="1395.4" y="1369.4" font-family="'Liberation Mono','DejaVu Sans Mono',monospace" font-size="15.15" fill="#ff0000" >***</text>
<line x1="1269.4" y1="1365.7" x2="1279.4" y2="1365.7" stroke="#555" stroke-width="1.3" />
<text x="1259.4" y="1369.1" font-family="'Liberation Mono','DejaVu Sans Mono',monospace" font-size="15.15" text-anchor="end" fill="#1e1e1e" stroke="#1e1e1e" stroke-width="0.3">cation binding</text>
<rect x="1279.4" y="1409.5" width="104.7" height="28.5" fill="#3030ff" />
<text x="1393.1" y="1427.5" font-family="'Liberation Mono','DejaVu Sans Mono',monospace" font-size="15.15" fill="#ff0000" >***</text>
<line x1="1269.4" y1="1423.7" x2="1279.4" y2="1423.7" stroke="#555" stroke-width="1.3" />
<text x="1259.4" y="1427.1" font-family="'Liberation Mono','DejaVu Sans Mono',monospace" font-size="15.15" text-anchor="end" fill="#1e1e1e" stroke="#1e1e1e" stroke-width="0.3">metal ion binding</text>
<rect x="1279.4" y="1467.6" width="57.1" height="28.5" fill="#3030ff" />
<text x="1345.5" y="1485.6" font-family="'Liberation Mono','DejaVu Sans Mono',monospace" font-size="15.15" fill="#ff0000" >***</text>
<line x1="1269.4" y1="1481.8" x2="1279.4" y2="1481.8" stroke="#555" stroke-width="1.3" />
<text x="1259.4" y="1485.2" font-family="'Liberation Mono','DejaVu Sans Mono',monospace" font-size="15.15" text-anchor="end" fill="#1e1e1e" stroke="#1e1e1e" stroke-width="0.3">protein complex binding</text>
<rect x="1279.4" y="1525.6" width="69.0" height="28.5" fill="#3030ff" />
<text x="1357.4" y="1543.6" font-family="'Liberation Mono','DejaVu Sans Mono',monospace" font-size="15.15" fill="#ff0000" >***</text>
<line x1="1269.4" y1="1539.9" x2="1279.4" y2="1539.9" stroke="#555" stroke-width="1.3" />
<text x="1259.4" y="1543.3" font-family="'Liberation Mono','DejaVu Sans Mono',monospace" font-size="15.15" text-anchor="end" fill="#1e1e1e" stroke="#1e1e1e" stroke-width="0.3">macromolecular complex binding</text>
<rect x="1279.4" y="1583.7" width="57.1" height="28.5" fill="#3030ff" />
<text x="1345.5" y="1601.7" font-family="'Liberation Mono','DejaVu Sans Mono',monospace" font-size="15.15" fill="#ff0000" >***</text>
<line x1="1269.4" y1="1598.0" x2="1279.4" y2="1598.0" stroke="#555" stroke-width="1.3" />
<text x="1259.4" y="1601.4" font-family="'Liberation Mono','DejaVu Sans Mono',monospace" font-size="15.15" text-anchor="end" fill="#1e1e1e" stroke="#1e1e1e" stroke-width="0.3">protein dimerization activity</text>
<line x1="1398.3" y1="1038.7" x2="1398.3" y2="1633.7" stroke="#000" stroke-width="1" stroke-dasharray="2,2" stroke-opacity="0.12"/>
<line x1="1517.2" y1="1038.7" x2="1517.2" y2="1633.7" stroke="#000" stroke-width="1" stroke-dasharray="2,2" stroke-opacity="0.12"/>
<line x1="1636.2" y1="1038.7" x2="1636.2" y2="1633.7" stroke="#000" stroke-width="1" stroke-dasharray="2,2" stroke-opacity="0.12"/>
<line x1="1279.4" y1="1038.7" x2="1279.4" y2="1633.7" stroke="#333" stroke-width="1.3" />
<line x1="1278.8" y1="1633.7" x2="1755.7" y2="1633.7" stroke="#555" stroke-width="1.6" />
<line x1="1279.4" y1="1633.7" x2="1279.4" y2="1643.5" stroke="#555" stroke-width="1.6" />
<text x="1279.4" y="1668.2" font-family="'DejaVu Sans Mono','Liberation Mono',monospace" font-size="14.8" text-anchor="middle" fill="#111" >0</text>
<line x1="1398.3" y1="1633.7" x2="1398.3" y2="1643.5" stroke="#555" stroke-width="1.6" />
<text x="1398.3" y="1668.2" font-family="'DejaVu Sans Mono','Liberation Mono',monospace" font-size="14.8" text-anchor="middle" fill="#111" >50</text>
<line x1="1517.2" y1="1633.7" x2="1517.2" y2="1643.5" stroke="#555" stroke-width="1.6" />
<text x="1517.2" y="1668.2" font-family="'DejaVu Sans Mono','Liberation Mono',monospace" font-size="14.8" text-anchor="middle" fill="#111" >100</text>
<line x1="1636.2" y1="1633.7" x2="1636.2" y2="1643.5" stroke="#555" stroke-width="1.6" />
<text x="1636.2" y="1668.2" font-family="'DejaVu Sans Mono','Liberation Mono',monospace" font-size="14.8" text-anchor="middle" fill="#111" >150</text>
<line x1="1755.1" y1="1633.7" x2="1755.1" y2="1643.5" stroke="#555" stroke-width="1.6" />
<text x="1755.1" y="1668.2" font-family="'DejaVu Sans Mono','Liberation Mono',monospace" font-size="14.8" text-anchor="middle" fill="#111" >200</text>
<text x="1517.2" y="1706.0" font-family="'DejaVu Sans Mono','Liberation Mono',monospace" font-size="14.8" text-anchor="middle" fill="#111" >Count</text>
<text x="0" y="0" font-family="'Liberation Sans',Arial,sans-serif" font-weight="bold" font-size="76.31" transform="translate(57.38 1788.20) scale(0.7677 1)">F</text>
<defs><filter id="bl4" x="-30%" y="-50%" width="160%" height="200%"><feGaussianBlur stdDeviation="4"/></filter><filter id="bl2" x="-30%" y="-50%" width="160%" height="200%"><feGaussianBlur stdDeviation="3.2"/></filter><filter id="bl7" x="-30%" y="-50%" width="160%" height="200%"><feGaussianBlur stdDeviation="7"/></filter></defs>
<clipPath id="bc0"><rect x="314.9" y="1775.8" width="194.9" height="44.8"/></clipPath>
<g clip-path="url(#bc0)">
<rect x="311.1" y="1772.0" width="202.5" height="52.4" fill="#8e8e8e" />
<rect x="330" y="1776" width="60" height="46" fill="#6e6e6e" filter="url(#bl4)"/>
<rect x="430" y="1776" width="60" height="46" fill="#6e6e6e" filter="url(#bl4)"/>
<rect x="330" y="1786" width="60" height="19" rx="9" fill="#2a2a2a" filter="url(#bl2)"/>
<rect x="430" y="1781.5" width="61" height="23" rx="10" fill="#262626" filter="url(#bl2)"/>
</g>
<rect x="313.0" y="1773.9" width="198.7" height="48.6" rx="1.5" fill="none" stroke="#000" stroke-width="3.8"/>
<clipPath id="bc1"><rect x="314.9" y="1833.2" width="194.9" height="56.3"/></clipPath>
<g clip-path="url(#bc1)">
<rect x="311.1" y="1829.4" width="202.5" height="63.9" fill="#b2b2b2" />
<rect x="335" y="1833" width="50" height="58" fill="#7a7a7a" filter="url(#bl4)"/>
<ellipse cx="357" cy="1862" rx="27" ry="27" fill="#808080" filter="url(#bl7)"/>
<ellipse cx="468" cy="1862" rx="32" ry="26" fill="#808080" filter="url(#bl7)"/>
<ellipse cx="357" cy="1863" rx="21" ry="22" fill="#3c3c3c" filter="url(#bl4)"/>
<ellipse cx="468" cy="1850" rx="22" ry="12" fill="#5a5a5a" filter="url(#bl4)"/>
<path d="M443 1858 Q447 1843 468 1843 Q490 1843 494 1858 Q490 1878 468 1882 Q447 1876 443 1858Z" fill="#222" filter="url(#bl2)"/>
</g>
<rect x="313.0" y="1831.3" width="198.7" height="60.1" rx="1.5" fill="none" stroke="#000" stroke-width="3.8"/>
<clipPath id="bc2"><rect x="314.9" y="1903.2" width="194.9" height="80.9"/></clipPath>
<g clip-path="url(#bc2)">
<rect x="311.1" y="1899.4" width="202.5" height="88.5" fill="#a4a4a4" />
<rect x="330" y="1903" width="58" height="30" fill="#707070" filter="url(#bl4)"/>
<rect x="432" y="1903" width="60" height="30" fill="#444" filter="url(#bl4)"/>
<rect x="320" y="1924" width="75" height="51" rx="18" fill="#252525" filter="url(#bl2)"/>
<rect x="423" y="1924" width="77" height="55" rx="22" fill="#252525" filter="url(#bl2)"/>
</g>
<rect x="313.0" y="1901.3" width="198.7" height="84.7" rx="1.5" fill="none" stroke="#000" stroke-width="3.8"/>
<clipPath id="bc3"><rect x="314.9" y="1995.5" width="194.9" height="59.3"/></clipPath>
<g clip-path="url(#bc3)">
<rect x="311.1" y="1991.7" width="202.5" height="66.9" fill="#c4c4c4" />
<rect x="480" y="1994" width="35" height="64" fill="#d8d8d8" filter="url(#bl7)"/>
<rect x="435" y="1996" width="60" height="40" fill="#7a7a7a" filter="url(#bl7)"/>
<rect x="330" y="2000" width="50" height="50" fill="#a0a0a0" filter="url(#bl7)"/>
<ellipse cx="357" cy="2026" rx="33" ry="18" fill="#777" filter="url(#bl7)"/>
<ellipse cx="467" cy="2026" rx="36" ry="23" fill="#777" filter="url(#bl7)"/>
<ellipse cx="357" cy="2027" rx="28" ry="12.5" fill="#2e2e2e" filter="url(#bl2)"/>
<path d="M437 2016 Q437 2009 450 2009 L484 2009 Q498 2009 497 2018 Q494 2030 486 2039 Q478 2047 466 2047 Q453 2047 446 2039 Q439 2030 437 2016Z" fill="#333" filter="url(#bl2)"/>
</g>
<rect x="313.0" y="1993.6" width="198.7" height="63.1" rx="1.5" fill="none" stroke="#000" stroke-width="3.8"/>
<clipPath id="bc4"><rect x="314.9" y="2066.2" width="194.9" height="65.2"/></clipPath>
<g clip-path="url(#bc4)">
<rect x="311.1" y="2062.4" width="202.5" height="72.8" fill="#a8a8a8" />
<rect x="330" y="2070" width="58" height="66" fill="#5a5a5a" filter="url(#bl4)"/>
<rect x="434" y="2066" width="62" height="70" fill="#5a5a5a" filter="url(#bl4)"/>
<path d="M328 2090 Q328 2078 345 2078 L372 2078 Q389 2078 389 2092 L388 2114 Q385 2129 358 2129 Q332 2129 330 2114Z" fill="#232323" filter="url(#bl2)"/>
<path d="M432 2084 Q432 2071 452 2071 L478 2071 Q498 2071 498 2086 L497 2108 Q494 2124 465 2124 Q436 2124 434 2108Z" fill="#1e1e1e" filter="url(#bl2)"/>
</g>
<rect x="313.0" y="2064.3" width="198.7" height="69.0" rx="1.5" fill="none" stroke="#000" stroke-width="3.8"/>
<text x="-1.77" y="0" font-family="'Liberation Sans',Arial,sans-serif" font-weight="bold" font-size="26.18" fill="#000" transform="translate(220.30 1813.70) rotate(0) scale(0.9117 1)">PI3K</text>
<text x="-1.67" y="0" font-family="'Liberation Sans',Arial,sans-serif" font-weight="bold" font-size="25.75" fill="#000" transform="translate(210.50 1870.90) rotate(0) scale(0.9571 1)">p-PI3K</text>
<text x="-0.66" y="0" font-family="'Liberation Sans',Arial,sans-serif" font-weight="bold" font-size="26.33" fill="#000" transform="translate(221.40 1952.90) rotate(0) scale(0.8687 1)">AKT</text>
<text x="-1.62" y="0" font-family="'Liberation Sans',Arial,sans-serif" font-weight="bold" font-size="24.87" fill="#000" transform="translate(212.90 2033.80) rotate(0) scale(0.9685 1)">p-AKT</text>
<text x="-1.05" y="0" font-family="'Liberation Sans',Arial,sans-serif" font-weight="bold" font-size="26.33" fill="#000" transform="translate(197.60 2108.10) rotate(0) scale(0.9190 1)">GAPDH</text>
<text x="-1.68" y="0" font-family="'Liberation Sans',Arial,sans-serif" font-weight="bold" font-size="24.87" fill="#000" transform="translate(363.80 1755.70) rotate(-41.5) scale(0.9973 1)">Nor BAT</text>
<text x="-0.98" y="0" font-family="'Liberation Sans',Arial,sans-serif" font-weight="bold" font-size="24.58" fill="#000" transform="translate(456.50 1761.30) rotate(-41.5) scale(0.9876 1)">CIA BAT</text>
<text x="0" y="0" font-family="'Liberation Sans',Arial,sans-serif" font-weight="bold" font-size="75.99" transform="translate(686.05 1787.74) scale(0.8832 1)">G</text>
<rect x="906.4" y="1921.0" width="128.0" height="99.5" fill="#000" />
<rect x="1093.3" y="1840.4" width="126.7" height="180.1" fill="#000" />
<line x1="970.4" y1="1921.0" x2="970.4" y2="1918.5" stroke="#000" stroke-width="3" />
<line x1="938.4" y1="1918.5" x2="1002.4" y2="1918.5" stroke="#000" stroke-width="3" />
<line x1="1156.7" y1="1840.4" x2="1156.7" y2="1806.5" stroke="#000" stroke-width="3" />
<line x1="1124.7" y1="1806.5" x2="1188.7" y2="1806.5" stroke="#000" stroke-width="3" />
<line x1="877.9" y1="1770.7" x2="877.9" y2="2022.0" stroke="#000" stroke-width="3" />
<line x1="869.9" y1="2020.5" x2="1249.8" y2="2020.5" stroke="#000" stroke-width="3" />
<line x1="869.9" y1="2020.5" x2="877.9" y2="2020.5" stroke="#000" stroke-width="3" />
<text x="868.40" y="2026.70" font-family="'Liberation Sans',Arial,sans-serif" font-weight="bold" font-size="17.63" text-anchor="end">0.0</text>
<line x1="869.9" y1="1970.7" x2="877.9" y2="1970.7" stroke="#000" stroke-width="3" />
<text x="868.40" y="1976.94" font-family="'Liberation Sans',Arial,sans-serif" font-weight="bold" font-size="17.63" text-anchor="end">0.5</text>
<line x1="869.9" y1="1921.0" x2="877.9" y2="1921.0" stroke="#000" stroke-width="3" />
<text x="868.40" y="1927.18" font-family="'Liberation Sans',Arial,sans-serif" font-weight="bold" font-size="17.63" text-anchor="end">1.0</text>
<line x1="869.9" y1="1871.2" x2="877.9" y2="1871.2" stroke="#000" stroke-width="3" />
<text x="868.40" y="1877.42" font-family="'Liberation Sans',Arial,sans-serif" font-weight="bold" font-size="17.89" text-anchor="end">1.5</text>
<line x1="869.9" y1="1821.5" x2="877.9" y2="1821.5" stroke="#000" stroke-width="3" />
<text x="868.40" y="1827.66" font-family="'Liberation Sans',Arial,sans-serif" font-weight="bold" font-size="17.63" text-anchor="end">2.0</text>
<line x1="869.9" y1="1771.7" x2="877.9" y2="1771.7" stroke="#000" stroke-width="3" />
<text x="868.40" y="1777.90" font-family="'Liberation Sans',Arial,sans-serif" font-weight="bold" font-size="17.63" text-anchor="end">2.5</text>
<line x1="971.2" y1="2020.5" x2="971.2" y2="2028.5" stroke="#000" stroke-width="3" />
<line x1="1156.8" y1="2020.5" x2="1156.8" y2="2028.5" stroke="#000" stroke-width="3" />
<line x1="977.8" y1="1785.0" x2="1161.1" y2="1785.0" stroke="#000" stroke-width="3.6" />
<text x="0" y="0" font-family="'Liberation Sans',Arial,sans-serif" font-weight="bold" font-size="49.66" fill="#000" transform="translate(1062.98 1790.14) scale(0.9780 1)">*</text>
<text x="-1.46" y="0" font-family="'Liberation Sans',Arial,sans-serif" font-weight="bold" font-size="21.60" fill="#000" transform="translate(807.80 2037.90) rotate(-90) scale(0.9492 1)">Protein relative expression of</text>
<text x="-1.39" y="0" font-family="'Liberation Sans',Arial,sans-serif" font-weight="bold" font-size="21.38" fill="#000" transform="translate(832.20 1949.90) rotate(-90) scale(0.9492 1)">p-PI3K/PI3K</text>
<text x="-1.32" y="0" font-family="'Liberation Sans',Arial,sans-serif" font-weight="bold" font-size="19.49" fill="#000" transform="translate(902.70 2122.40) rotate(-45) scale(0.9532 1)">Normal BAT</text>
<text x="-0.78" y="0" font-family="'Liberation Sans',Arial,sans-serif" font-weight="bold" font-size="19.49" fill="#000" transform="translate(1110.00 2100.00) rotate(-45) scale(0.9727 1)">CIA BAT</text>
<rect x="1400.4" y="1978.6" width="126.3" height="41.9" fill="#000" />
<rect x="1585.7" y="1862.9" width="127.3" height="157.6" fill="#000" />
<line x1="1463.6" y1="1978.6" x2="1463.6" y2="1975.7" stroke="#000" stroke-width="3" />
<line x1="1431.6" y1="1975.7" x2="1495.6" y2="1975.7" stroke="#000" stroke-width="3" />
<line x1="1649.3" y1="1862.9" x2="1649.3" y2="1812.3" stroke="#000" stroke-width="3" />
<line x1="1617.3" y1="1812.3" x2="1681.3" y2="1812.3" stroke="#000" stroke-width="3" />
<line x1="1370.9" y1="1770.7" x2="1370.9" y2="2022.0" stroke="#000" stroke-width="3" />
<line x1="1362.9" y1="2020.5" x2="1743.5" y2="2020.5" stroke="#000" stroke-width="3" />
<line x1="1362.9" y1="2020.5" x2="1370.9" y2="2020.5" stroke="#000" stroke-width="3" />
<text x="1361.40" y="2026.70" font-family="'Liberation Sans',Arial,sans-serif" font-weight="bold" font-size="17.63" text-anchor="end">0</text>
<line x1="1362.9" y1="1937.6" x2="1370.9" y2="1937.6" stroke="#000" stroke-width="3" />
<text x="1361.40" y="1943.77" font-family="'Liberation Sans',Arial,sans-serif" font-weight="bold" font-size="17.63" text-anchor="end">2</text>
<line x1="1362.9" y1="1854.6" x2="1370.9" y2="1854.6" stroke="#000" stroke-width="3" />
<text x="1361.40" y="1860.83" font-family="'Liberation Sans',Arial,sans-serif" font-weight="bold" font-size="17.89" text-anchor="end">4</text>
<line x1="1362.9" y1="1771.7" x2="1370.9" y2="1771.7" stroke="#000" stroke-width="3" />
<text x="1361.40" y="1777.90" font-family="'Liberation Sans',Arial,sans-serif" font-weight="bold" font-size="17.63" text-anchor="end">6</text>
<line x1="1463.9" y1="2020.5" x2="1463.9" y2="2028.5" stroke="#000" stroke-width="3" />
<line x1="1650.2" y1="2020.5" x2="1650.2" y2="2028.5" stroke="#000" stroke-width="3" />
<line x1="1469.1" y1="1795.8" x2="1652.5" y2="1795.8" stroke="#000" stroke-width="3.6" />
<text x="0" y="0" font-family="'Liberation Sans',Arial,sans-serif" font-weight="bold" font-size="49.13" fill="#000" transform="translate(1540.57 1800.68) scale(1.0716 1)">**</text>
<text x="-1.46" y="0" font-family="'Liberation Sans',Arial,sans-serif" font-weight="bold" font-size="21.60" fill="#000" transform="translate(1315.90 2038.00) rotate(-90) scale(0.9492 1)">Protein relative expression of</text>
<text x="-1.39" y="0" font-family="'Liberation Sans',Arial,sans-serif" font-weight="bold" font-size="21.38" fill="#000" transform="translate(1339.90 1945.70) rotate(-90) scale(0.9483 1)">p-AKT/AKT</text>
<text x="-1.32" y="0" font-family="'Liberation Sans',Arial,sans-serif" font-weight="bold" font-size="19.49" fill="#000" transform="translate(1395.40 2122.40) rotate(-45) scale(0.9532 1)">Normal BAT</text>
<text x="-0.78" y="0" font-family="'Liberation Sans',Arial,sans-serif" font-weight="bold" font-size="19.49" fill="#000" transform="translate(1602.70 2100.00) rotate(-45) scale(0.9727 1)">CIA BAT</text>
</svg>
</body></html>
